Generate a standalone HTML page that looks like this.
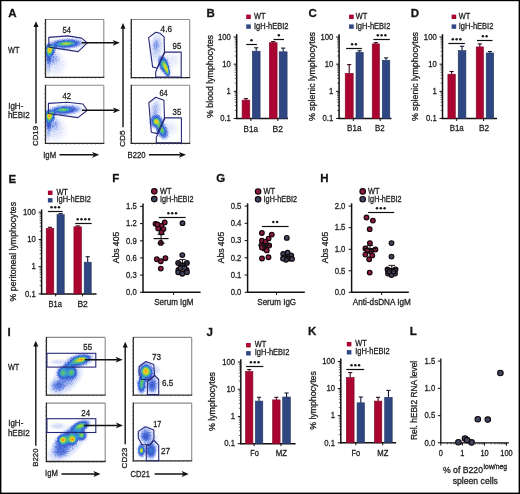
<!DOCTYPE html>
<html><head><meta charset="utf-8"><style>
html,body{margin:0;padding:0;background:#fff;}
svg{display:block;font-family:"Liberation Sans",sans-serif;will-change:transform;}
text{stroke:#1e1e1e;stroke-width:0.3px;}
</style></head><body>
<svg width="520" height="494" viewBox="0 0 520 494">
<rect x="0" y="0" width="520" height="494" fill="#fff"/>
<defs>
<filter id="b1" x="-50%" y="-50%" width="200%" height="200%"><feGaussianBlur stdDeviation="0.8"/></filter>
<filter id="b2" x="-50%" y="-50%" width="200%" height="200%"><feGaussianBlur stdDeviation="1.4"/></filter>
<filter id="b3" x="-50%" y="-50%" width="200%" height="200%"><feGaussianBlur stdDeviation="2.2"/></filter>
<filter id="b4" x="-50%" y="-50%" width="200%" height="200%"><feGaussianBlur stdDeviation="3.2"/></filter>
<radialGradient id="rg"><stop offset="0" stop-color="#000" stop-opacity="1"/><stop offset="0.35" stop-color="#000" stop-opacity="0.8"/><stop offset="0.65" stop-color="#000" stop-opacity="0.4"/><stop offset="1" stop-color="#000" stop-opacity="0"/></radialGradient><filter id="d1" filterUnits="userSpaceOnUse" x="45.5" y="19.5" width="58.0" height="57.5" color-interpolation-filters="sRGB"><feGaussianBlur in="SourceAlpha" stdDeviation="0.7" result="b"/><feGaussianBlur in="SourceAlpha" stdDeviation="2.2" result="w"/><feTurbulence type="fractalNoise" baseFrequency="1.1" numOctaves="2" seed="1" result="n"/><feComponentTransfer in="n" result="nm"><feFuncA type="discrete" tableValues="0 0 0 0 0.6 1 1 1"/></feComponentTransfer><feComposite in="w" in2="nm" operator="in" result="s"/><feComposite in="s" in2="b" operator="out" result="so1"/><feComposite in="so1" in2="b" operator="out" result="so2"/><feComposite in="so2" in2="b" operator="out" result="so"/><feComposite in="b" in2="so" operator="arithmetic" k1="0" k2="1" k3="0.75" k4="0" result="d"/><feColorMatrix in="d" type="matrix" values="0 0 0 1 0  0 0 0 1 0  0 0 0 1 0  0 0 0 0 1"/><feComponentTransfer><feFuncR type="table" tableValues="1 0.80 0.42 0.22 0.20 0.38 0.78 0.98 0.92"/><feFuncG type="table" tableValues="1 0.84 0.54 0.34 0.60 0.76 0.86 0.76 0.22"/><feFuncB type="table" tableValues="1 0.97 0.90 0.80 0.84 0.42 0.20 0.10 0.10"/></feComponentTransfer></filter>
<filter id="d2" filterUnits="userSpaceOnUse" x="45.5" y="85.5" width="58.0" height="57.5" color-interpolation-filters="sRGB"><feGaussianBlur in="SourceAlpha" stdDeviation="0.7" result="b"/><feGaussianBlur in="SourceAlpha" stdDeviation="2.2" result="w"/><feTurbulence type="fractalNoise" baseFrequency="1.1" numOctaves="2" seed="1" result="n"/><feComponentTransfer in="n" result="nm"><feFuncA type="discrete" tableValues="0 0 0 0 0.6 1 1 1"/></feComponentTransfer><feComposite in="w" in2="nm" operator="in" result="s"/><feComposite in="s" in2="b" operator="out" result="so1"/><feComposite in="so1" in2="b" operator="out" result="so2"/><feComposite in="so2" in2="b" operator="out" result="so"/><feComposite in="b" in2="so" operator="arithmetic" k1="0" k2="1" k3="0.75" k4="0" result="d"/><feColorMatrix in="d" type="matrix" values="0 0 0 1 0  0 0 0 1 0  0 0 0 1 0  0 0 0 0 1"/><feComponentTransfer><feFuncR type="table" tableValues="1 0.80 0.42 0.22 0.20 0.38 0.78 0.98 0.92"/><feFuncG type="table" tableValues="1 0.84 0.54 0.34 0.60 0.76 0.86 0.76 0.22"/><feFuncB type="table" tableValues="1 0.97 0.90 0.80 0.84 0.42 0.20 0.10 0.10"/></feComponentTransfer></filter>
<filter id="d3" filterUnits="userSpaceOnUse" x="131.5" y="20" width="58.0" height="57.5" color-interpolation-filters="sRGB"><feGaussianBlur in="SourceAlpha" stdDeviation="0.7" result="b"/><feGaussianBlur in="SourceAlpha" stdDeviation="2.2" result="w"/><feTurbulence type="fractalNoise" baseFrequency="1.1" numOctaves="2" seed="1" result="n"/><feComponentTransfer in="n" result="nm"><feFuncA type="discrete" tableValues="0 0 0 0 0.6 1 1 1"/></feComponentTransfer><feComposite in="w" in2="nm" operator="in" result="s"/><feComposite in="s" in2="b" operator="out" result="so1"/><feComposite in="so1" in2="b" operator="out" result="so2"/><feComposite in="so2" in2="b" operator="out" result="so"/><feComposite in="b" in2="so" operator="arithmetic" k1="0" k2="1" k3="0.75" k4="0" result="d"/><feColorMatrix in="d" type="matrix" values="0 0 0 1 0  0 0 0 1 0  0 0 0 1 0  0 0 0 0 1"/><feComponentTransfer><feFuncR type="table" tableValues="1 0.80 0.42 0.22 0.20 0.38 0.78 0.98 0.92"/><feFuncG type="table" tableValues="1 0.84 0.54 0.34 0.60 0.76 0.86 0.76 0.22"/><feFuncB type="table" tableValues="1 0.97 0.90 0.80 0.84 0.42 0.20 0.10 0.10"/></feComponentTransfer></filter>
<filter id="d4" filterUnits="userSpaceOnUse" x="131.5" y="85.5" width="58.0" height="57.5" color-interpolation-filters="sRGB"><feGaussianBlur in="SourceAlpha" stdDeviation="0.7" result="b"/><feGaussianBlur in="SourceAlpha" stdDeviation="2.2" result="w"/><feTurbulence type="fractalNoise" baseFrequency="1.1" numOctaves="2" seed="1" result="n"/><feComponentTransfer in="n" result="nm"><feFuncA type="discrete" tableValues="0 0 0 0 0.6 1 1 1"/></feComponentTransfer><feComposite in="w" in2="nm" operator="in" result="s"/><feComposite in="s" in2="b" operator="out" result="so1"/><feComposite in="so1" in2="b" operator="out" result="so2"/><feComposite in="so2" in2="b" operator="out" result="so"/><feComposite in="b" in2="so" operator="arithmetic" k1="0" k2="1" k3="0.75" k4="0" result="d"/><feColorMatrix in="d" type="matrix" values="0 0 0 1 0  0 0 0 1 0  0 0 0 1 0  0 0 0 0 1"/><feComponentTransfer><feFuncR type="table" tableValues="1 0.80 0.42 0.22 0.20 0.38 0.78 0.98 0.92"/><feFuncG type="table" tableValues="1 0.84 0.54 0.34 0.60 0.76 0.86 0.76 0.22"/><feFuncB type="table" tableValues="1 0.97 0.90 0.80 0.84 0.42 0.20 0.10 0.10"/></feComponentTransfer></filter>
<filter id="d5" filterUnits="userSpaceOnUse" x="46.9" y="337.9" width="57.800000000000004" height="56.700000000000045" color-interpolation-filters="sRGB"><feGaussianBlur in="SourceAlpha" stdDeviation="0.7" result="b"/><feGaussianBlur in="SourceAlpha" stdDeviation="2.2" result="w"/><feTurbulence type="fractalNoise" baseFrequency="1.1" numOctaves="2" seed="1" result="n"/><feComponentTransfer in="n" result="nm"><feFuncA type="discrete" tableValues="0 0 0 0 0.6 1 1 1"/></feComponentTransfer><feComposite in="w" in2="nm" operator="in" result="s"/><feComposite in="s" in2="b" operator="out" result="so1"/><feComposite in="so1" in2="b" operator="out" result="so2"/><feComposite in="so2" in2="b" operator="out" result="so"/><feComposite in="b" in2="so" operator="arithmetic" k1="0" k2="1" k3="0.75" k4="0" result="d"/><feColorMatrix in="d" type="matrix" values="0 0 0 1 0  0 0 0 1 0  0 0 0 1 0  0 0 0 0 1"/><feComponentTransfer><feFuncR type="table" tableValues="1 0.80 0.42 0.22 0.20 0.38 0.78 0.98 0.92"/><feFuncG type="table" tableValues="1 0.84 0.54 0.34 0.60 0.76 0.86 0.76 0.22"/><feFuncB type="table" tableValues="1 0.97 0.90 0.80 0.84 0.42 0.20 0.10 0.10"/></feComponentTransfer></filter>
<filter id="d6" filterUnits="userSpaceOnUse" x="46.9" y="403.6" width="57.800000000000004" height="57.39999999999998" color-interpolation-filters="sRGB"><feGaussianBlur in="SourceAlpha" stdDeviation="0.7" result="b"/><feGaussianBlur in="SourceAlpha" stdDeviation="2.2" result="w"/><feTurbulence type="fractalNoise" baseFrequency="1.1" numOctaves="2" seed="1" result="n"/><feComponentTransfer in="n" result="nm"><feFuncA type="discrete" tableValues="0 0 0 0 0.6 1 1 1"/></feComponentTransfer><feComposite in="w" in2="nm" operator="in" result="s"/><feComposite in="s" in2="b" operator="out" result="so1"/><feComposite in="so1" in2="b" operator="out" result="so2"/><feComposite in="so2" in2="b" operator="out" result="so"/><feComposite in="b" in2="so" operator="arithmetic" k1="0" k2="1" k3="0.75" k4="0" result="d"/><feColorMatrix in="d" type="matrix" values="0 0 0 1 0  0 0 0 1 0  0 0 0 1 0  0 0 0 0 1"/><feComponentTransfer><feFuncR type="table" tableValues="1 0.80 0.42 0.22 0.20 0.38 0.78 0.98 0.92"/><feFuncG type="table" tableValues="1 0.84 0.54 0.34 0.60 0.76 0.86 0.76 0.22"/><feFuncB type="table" tableValues="1 0.97 0.90 0.80 0.84 0.42 0.20 0.10 0.10"/></feComponentTransfer></filter>
<filter id="d7" filterUnits="userSpaceOnUse" x="133.8" y="337.9" width="57.39999999999998" height="56.700000000000045" color-interpolation-filters="sRGB"><feGaussianBlur in="SourceAlpha" stdDeviation="0.7" result="b"/><feGaussianBlur in="SourceAlpha" stdDeviation="2.2" result="w"/><feTurbulence type="fractalNoise" baseFrequency="1.1" numOctaves="2" seed="1" result="n"/><feComponentTransfer in="n" result="nm"><feFuncA type="discrete" tableValues="0 0 0 0 0.6 1 1 1"/></feComponentTransfer><feComposite in="w" in2="nm" operator="in" result="s"/><feComposite in="s" in2="b" operator="out" result="so1"/><feComposite in="so1" in2="b" operator="out" result="so2"/><feComposite in="so2" in2="b" operator="out" result="so"/><feComposite in="b" in2="so" operator="arithmetic" k1="0" k2="1" k3="0.75" k4="0" result="d"/><feColorMatrix in="d" type="matrix" values="0 0 0 1 0  0 0 0 1 0  0 0 0 1 0  0 0 0 0 1"/><feComponentTransfer><feFuncR type="table" tableValues="1 0.80 0.42 0.22 0.20 0.38 0.78 0.98 0.92"/><feFuncG type="table" tableValues="1 0.84 0.54 0.34 0.60 0.76 0.86 0.76 0.22"/><feFuncB type="table" tableValues="1 0.97 0.90 0.80 0.84 0.42 0.20 0.10 0.10"/></feComponentTransfer></filter>
<filter id="d8" filterUnits="userSpaceOnUse" x="133.8" y="403.6" width="57.39999999999998" height="56.69999999999999" color-interpolation-filters="sRGB"><feGaussianBlur in="SourceAlpha" stdDeviation="0.7" result="b"/><feGaussianBlur in="SourceAlpha" stdDeviation="2.2" result="w"/><feTurbulence type="fractalNoise" baseFrequency="1.1" numOctaves="2" seed="1" result="n"/><feComponentTransfer in="n" result="nm"><feFuncA type="discrete" tableValues="0 0 0 0 0.6 1 1 1"/></feComponentTransfer><feComposite in="w" in2="nm" operator="in" result="s"/><feComposite in="s" in2="b" operator="out" result="so1"/><feComposite in="so1" in2="b" operator="out" result="so2"/><feComposite in="so2" in2="b" operator="out" result="so"/><feComposite in="b" in2="so" operator="arithmetic" k1="0" k2="1" k3="0.75" k4="0" result="d"/><feColorMatrix in="d" type="matrix" values="0 0 0 1 0  0 0 0 1 0  0 0 0 1 0  0 0 0 0 1"/><feComponentTransfer><feFuncR type="table" tableValues="1 0.80 0.42 0.22 0.20 0.38 0.78 0.98 0.92"/><feFuncG type="table" tableValues="1 0.84 0.54 0.34 0.60 0.76 0.86 0.76 0.22"/><feFuncB type="table" tableValues="1 0.97 0.90 0.80 0.84 0.42 0.20 0.10 0.10"/></feComponentTransfer></filter></defs>
<text x="8.3" y="16.6" font-size="11.5" text-anchor="start" font-weight="bold" fill="#111">A</text>
<text x="206.6" y="16.6" font-size="11.5" text-anchor="start" font-weight="bold" fill="#111">B</text>
<text x="308.4" y="16.6" font-size="11.5" text-anchor="start" font-weight="bold" fill="#111">C</text>
<text x="410.8" y="16.6" font-size="11.5" text-anchor="start" font-weight="bold" fill="#111">D</text>
<text x="8.6" y="183.2" font-size="11.5" text-anchor="start" font-weight="bold" fill="#111">E</text>
<text x="112.3" y="182" font-size="11.5" text-anchor="start" font-weight="bold" fill="#111">F</text>
<text x="216.2" y="182.2" font-size="11.5" text-anchor="start" font-weight="bold" fill="#111">G</text>
<text x="320.2" y="182" font-size="11.5" text-anchor="start" font-weight="bold" fill="#111">H</text>
<text x="7.6" y="335.8" font-size="11.5" text-anchor="start" font-weight="bold" fill="#111">I</text>
<text x="206.5" y="335.8" font-size="11.5" text-anchor="start" font-weight="bold" fill="#111">J</text>
<text x="308" y="334.8" font-size="11.5" text-anchor="start" font-weight="bold" fill="#111">K</text>
<text x="409.8" y="334.9" font-size="11.5" text-anchor="start" font-weight="bold" fill="#111">L</text>
<g filter="url(#d1)"><rect x="45.5" y="19.5" width="58.0" height="57.5" fill="#000" fill-opacity="0"/>
<ellipse cx="49.7" cy="50" rx="6.0" ry="7.0" transform="rotate(0 49.7 50)" fill="url(#rg)" fill-opacity="0.8"/>
<ellipse cx="49.5" cy="50" rx="2.5" ry="3.2" transform="rotate(0 49.5 50)" fill="url(#rg)" fill-opacity="0.4"/>
<ellipse cx="48.5" cy="56" rx="4.0" ry="9" transform="rotate(0 48.5 56)" fill="url(#rg)" fill-opacity="0.3"/>
<ellipse cx="48.5" cy="66" rx="3.5" ry="11" transform="rotate(0 48.5 66)" fill="url(#rg)" fill-opacity="0.14"/>
<ellipse cx="53" cy="58" rx="9" ry="9" transform="rotate(-25 53 58)" fill="url(#rg)" fill-opacity="0.14"/>
<ellipse cx="56" cy="64" rx="12" ry="14" transform="rotate(0 56 64)" fill="url(#rg)" fill-opacity="0.07"/>
<ellipse cx="66" cy="43.8" rx="21" ry="6.0" transform="rotate(-3 66 43.8)" fill="url(#rg)" fill-opacity="0.5"/>
<ellipse cx="66" cy="43.6" rx="13" ry="2.8" transform="rotate(-3 66 43.6)" fill="url(#rg)" fill-opacity="0.42"/>
<ellipse cx="66" cy="43.6" rx="6" ry="1.5" transform="rotate(-3 66 43.6)" fill="url(#rg)" fill-opacity="0.15"/>
<ellipse cx="52.5" cy="47.5" rx="6" ry="3" transform="rotate(-30 52.5 47.5)" fill="url(#rg)" fill-opacity="0.35"/>
</g>
<g filter="url(#d2)"><rect x="45.5" y="85.5" width="58.0" height="57.5" fill="#000" fill-opacity="0"/>
<ellipse cx="49.5" cy="116" rx="6.0" ry="7.0" transform="rotate(0 49.5 116)" fill="url(#rg)" fill-opacity="0.82"/>
<ellipse cx="49.3" cy="116" rx="2.5" ry="3.2" transform="rotate(0 49.3 116)" fill="url(#rg)" fill-opacity="0.45"/>
<ellipse cx="48.5" cy="122" rx="4.0" ry="9" transform="rotate(0 48.5 122)" fill="url(#rg)" fill-opacity="0.3"/>
<ellipse cx="48.5" cy="132" rx="3.5" ry="11" transform="rotate(0 48.5 132)" fill="url(#rg)" fill-opacity="0.14"/>
<ellipse cx="53" cy="124" rx="9" ry="9" transform="rotate(-25 53 124)" fill="url(#rg)" fill-opacity="0.14"/>
<ellipse cx="56" cy="130" rx="12" ry="14" transform="rotate(0 56 130)" fill="url(#rg)" fill-opacity="0.07"/>
<ellipse cx="65" cy="110" rx="20" ry="6.0" transform="rotate(-3 65 110)" fill="url(#rg)" fill-opacity="0.45"/>
<ellipse cx="62.5" cy="109.7" rx="10" ry="2.6" transform="rotate(-3 62.5 109.7)" fill="url(#rg)" fill-opacity="0.42"/>
<ellipse cx="52.5" cy="113.5" rx="6" ry="3" transform="rotate(-30 52.5 113.5)" fill="url(#rg)" fill-opacity="0.35"/>
</g>
<g filter="url(#d3)"><rect x="131.5" y="20" width="58.0" height="57.5" fill="#000" fill-opacity="0"/>
<ellipse cx="156.5" cy="47" rx="8" ry="17" transform="rotate(8 156.5 47)" fill="url(#rg)" fill-opacity="0.15"/>
<ellipse cx="155.5" cy="44" rx="4" ry="7" transform="rotate(8 155.5 44)" fill="url(#rg)" fill-opacity="0.07"/>
<ellipse cx="164.2" cy="66" rx="5.5" ry="12.5" transform="rotate(-22 164.2 66)" fill="url(#rg)" fill-opacity="0.5"/>
<ellipse cx="163.5" cy="63" rx="6.5" ry="8" transform="rotate(-10 163.5 63)" fill="url(#rg)" fill-opacity="0.3"/>
<ellipse cx="167.5" cy="72.5" rx="3.2" ry="5.5" transform="rotate(-15 167.5 72.5)" fill="url(#rg)" fill-opacity="0.4"/>
<ellipse cx="166" cy="68" rx="3.2" ry="7.5" transform="rotate(-20 166 68)" fill="url(#rg)" fill-opacity="0.5"/>
<ellipse cx="166.7" cy="68.5" rx="1.6" ry="3.8" transform="rotate(-18 166.7 68.5)" fill="url(#rg)" fill-opacity="0.45"/>
<ellipse cx="172" cy="60" rx="10" ry="10" transform="rotate(0 172 60)" fill="url(#rg)" fill-opacity="0.05"/>
</g>
<g filter="url(#d4)"><rect x="131.5" y="85.5" width="58.0" height="57.5" fill="#000" fill-opacity="0"/>
<ellipse cx="155.5" cy="110" rx="7" ry="13" transform="rotate(8 155.5 110)" fill="url(#rg)" fill-opacity="0.16"/>
<ellipse cx="156.5" cy="121.5" rx="8" ry="8" transform="rotate(0 156.5 121.5)" fill="url(#rg)" fill-opacity="0.55"/>
<ellipse cx="156.3" cy="121.6" rx="4" ry="4" transform="rotate(0 156.3 121.6)" fill="url(#rg)" fill-opacity="0.72"/>
<ellipse cx="162" cy="130.5" rx="6.5" ry="11" transform="rotate(-25 162 130.5)" fill="url(#rg)" fill-opacity="0.5"/>
<ellipse cx="161.5" cy="130" rx="3.5" ry="6" transform="rotate(-25 161.5 130)" fill="url(#rg)" fill-opacity="0.35"/>
<ellipse cx="159.5" cy="126" rx="4" ry="5" transform="rotate(0 159.5 126)" fill="url(#rg)" fill-opacity="0.25"/>
<ellipse cx="170" cy="128" rx="10" ry="10" transform="rotate(0 170 128)" fill="url(#rg)" fill-opacity="0.05"/>
</g>
<line x1="45.5" y1="19.5" x2="103.8" y2="19.5" stroke="#8a8a8a" stroke-width="1.1"/>
<line x1="103.8" y1="19.5" x2="103.8" y2="77.4" stroke="#8a8a8a" stroke-width="1.1"/>
<line x1="45.5" y1="19.0" x2="45.5" y2="78.0" stroke="#2a2a2a" stroke-width="1.3"/>
<line x1="44.9" y1="77.4" x2="104.3" y2="77.4" stroke="#2a2a2a" stroke-width="1.3"/>
<line x1="44.3" y1="23.635714285714286" x2="45.5" y2="23.635714285714286" stroke="#555" stroke-width="0.6"/>
<line x1="49.66428571428571" y1="77.4" x2="49.66428571428571" y2="78.60000000000001" stroke="#555" stroke-width="0.6"/>
<line x1="44.3" y1="27.771428571428572" x2="45.5" y2="27.771428571428572" stroke="#555" stroke-width="0.6"/>
<line x1="53.82857142857143" y1="77.4" x2="53.82857142857143" y2="78.60000000000001" stroke="#555" stroke-width="0.6"/>
<line x1="44.3" y1="31.90714285714286" x2="45.5" y2="31.90714285714286" stroke="#555" stroke-width="0.6"/>
<line x1="57.99285714285714" y1="77.4" x2="57.99285714285714" y2="78.60000000000001" stroke="#555" stroke-width="0.6"/>
<line x1="44.3" y1="36.042857142857144" x2="45.5" y2="36.042857142857144" stroke="#555" stroke-width="0.6"/>
<line x1="62.15714285714286" y1="77.4" x2="62.15714285714286" y2="78.60000000000001" stroke="#555" stroke-width="0.6"/>
<line x1="44.3" y1="40.17857142857143" x2="45.5" y2="40.17857142857143" stroke="#555" stroke-width="0.6"/>
<line x1="66.32142857142857" y1="77.4" x2="66.32142857142857" y2="78.60000000000001" stroke="#555" stroke-width="0.6"/>
<line x1="44.3" y1="44.31428571428572" x2="45.5" y2="44.31428571428572" stroke="#555" stroke-width="0.6"/>
<line x1="70.48571428571428" y1="77.4" x2="70.48571428571428" y2="78.60000000000001" stroke="#555" stroke-width="0.6"/>
<line x1="44.3" y1="48.45" x2="45.5" y2="48.45" stroke="#555" stroke-width="0.6"/>
<line x1="74.65" y1="77.4" x2="74.65" y2="78.60000000000001" stroke="#555" stroke-width="0.6"/>
<line x1="44.3" y1="52.58571428571429" x2="45.5" y2="52.58571428571429" stroke="#555" stroke-width="0.6"/>
<line x1="78.81428571428572" y1="77.4" x2="78.81428571428572" y2="78.60000000000001" stroke="#555" stroke-width="0.6"/>
<line x1="44.3" y1="56.721428571428575" x2="45.5" y2="56.721428571428575" stroke="#555" stroke-width="0.6"/>
<line x1="82.97857142857143" y1="77.4" x2="82.97857142857143" y2="78.60000000000001" stroke="#555" stroke-width="0.6"/>
<line x1="44.3" y1="60.857142857142854" x2="45.5" y2="60.857142857142854" stroke="#555" stroke-width="0.6"/>
<line x1="87.14285714285714" y1="77.4" x2="87.14285714285714" y2="78.60000000000001" stroke="#555" stroke-width="0.6"/>
<line x1="44.3" y1="64.99285714285715" x2="45.5" y2="64.99285714285715" stroke="#555" stroke-width="0.6"/>
<line x1="91.30714285714285" y1="77.4" x2="91.30714285714285" y2="78.60000000000001" stroke="#555" stroke-width="0.6"/>
<line x1="44.3" y1="69.12857142857143" x2="45.5" y2="69.12857142857143" stroke="#555" stroke-width="0.6"/>
<line x1="95.47142857142856" y1="77.4" x2="95.47142857142856" y2="78.60000000000001" stroke="#555" stroke-width="0.6"/>
<line x1="44.3" y1="73.26428571428572" x2="45.5" y2="73.26428571428572" stroke="#555" stroke-width="0.6"/>
<line x1="99.63571428571429" y1="77.4" x2="99.63571428571429" y2="78.60000000000001" stroke="#555" stroke-width="0.6"/>
<line x1="45.5" y1="85.3" x2="103.8" y2="85.3" stroke="#8a8a8a" stroke-width="1.1"/>
<line x1="103.8" y1="85.3" x2="103.8" y2="143.4" stroke="#8a8a8a" stroke-width="1.1"/>
<line x1="45.5" y1="84.8" x2="45.5" y2="144.0" stroke="#2a2a2a" stroke-width="1.3"/>
<line x1="44.9" y1="143.4" x2="104.3" y2="143.4" stroke="#2a2a2a" stroke-width="1.3"/>
<line x1="44.3" y1="89.45" x2="45.5" y2="89.45" stroke="#555" stroke-width="0.6"/>
<line x1="49.66428571428571" y1="143.4" x2="49.66428571428571" y2="144.6" stroke="#555" stroke-width="0.6"/>
<line x1="44.3" y1="93.6" x2="45.5" y2="93.6" stroke="#555" stroke-width="0.6"/>
<line x1="53.82857142857143" y1="143.4" x2="53.82857142857143" y2="144.6" stroke="#555" stroke-width="0.6"/>
<line x1="44.3" y1="97.75" x2="45.5" y2="97.75" stroke="#555" stroke-width="0.6"/>
<line x1="57.99285714285714" y1="143.4" x2="57.99285714285714" y2="144.6" stroke="#555" stroke-width="0.6"/>
<line x1="44.3" y1="101.9" x2="45.5" y2="101.9" stroke="#555" stroke-width="0.6"/>
<line x1="62.15714285714286" y1="143.4" x2="62.15714285714286" y2="144.6" stroke="#555" stroke-width="0.6"/>
<line x1="44.3" y1="106.05" x2="45.5" y2="106.05" stroke="#555" stroke-width="0.6"/>
<line x1="66.32142857142857" y1="143.4" x2="66.32142857142857" y2="144.6" stroke="#555" stroke-width="0.6"/>
<line x1="44.3" y1="110.2" x2="45.5" y2="110.2" stroke="#555" stroke-width="0.6"/>
<line x1="70.48571428571428" y1="143.4" x2="70.48571428571428" y2="144.6" stroke="#555" stroke-width="0.6"/>
<line x1="44.3" y1="114.35" x2="45.5" y2="114.35" stroke="#555" stroke-width="0.6"/>
<line x1="74.65" y1="143.4" x2="74.65" y2="144.6" stroke="#555" stroke-width="0.6"/>
<line x1="44.3" y1="118.5" x2="45.5" y2="118.5" stroke="#555" stroke-width="0.6"/>
<line x1="78.81428571428572" y1="143.4" x2="78.81428571428572" y2="144.6" stroke="#555" stroke-width="0.6"/>
<line x1="44.3" y1="122.65" x2="45.5" y2="122.65" stroke="#555" stroke-width="0.6"/>
<line x1="82.97857142857143" y1="143.4" x2="82.97857142857143" y2="144.6" stroke="#555" stroke-width="0.6"/>
<line x1="44.3" y1="126.80000000000001" x2="45.5" y2="126.80000000000001" stroke="#555" stroke-width="0.6"/>
<line x1="87.14285714285714" y1="143.4" x2="87.14285714285714" y2="144.6" stroke="#555" stroke-width="0.6"/>
<line x1="44.3" y1="130.95000000000002" x2="45.5" y2="130.95000000000002" stroke="#555" stroke-width="0.6"/>
<line x1="91.30714285714285" y1="143.4" x2="91.30714285714285" y2="144.6" stroke="#555" stroke-width="0.6"/>
<line x1="44.3" y1="135.1" x2="45.5" y2="135.1" stroke="#555" stroke-width="0.6"/>
<line x1="95.47142857142856" y1="143.4" x2="95.47142857142856" y2="144.6" stroke="#555" stroke-width="0.6"/>
<line x1="44.3" y1="139.25" x2="45.5" y2="139.25" stroke="#555" stroke-width="0.6"/>
<line x1="99.63571428571429" y1="143.4" x2="99.63571428571429" y2="144.6" stroke="#555" stroke-width="0.6"/>
<line x1="131.3" y1="19.5" x2="189.7" y2="19.5" stroke="#8a8a8a" stroke-width="1.1"/>
<line x1="189.7" y1="19.5" x2="189.7" y2="77.6" stroke="#8a8a8a" stroke-width="1.1"/>
<line x1="131.3" y1="19.0" x2="131.3" y2="78.19999999999999" stroke="#2a2a2a" stroke-width="1.3"/>
<line x1="130.70000000000002" y1="77.6" x2="190.2" y2="77.6" stroke="#2a2a2a" stroke-width="1.3"/>
<line x1="130.10000000000002" y1="23.65" x2="131.3" y2="23.65" stroke="#555" stroke-width="0.6"/>
<line x1="135.4714285714286" y1="77.6" x2="135.4714285714286" y2="78.8" stroke="#555" stroke-width="0.6"/>
<line x1="130.10000000000002" y1="27.799999999999997" x2="131.3" y2="27.799999999999997" stroke="#555" stroke-width="0.6"/>
<line x1="139.64285714285714" y1="77.6" x2="139.64285714285714" y2="78.8" stroke="#555" stroke-width="0.6"/>
<line x1="130.10000000000002" y1="31.95" x2="131.3" y2="31.95" stroke="#555" stroke-width="0.6"/>
<line x1="143.81428571428572" y1="77.6" x2="143.81428571428572" y2="78.8" stroke="#555" stroke-width="0.6"/>
<line x1="130.10000000000002" y1="36.099999999999994" x2="131.3" y2="36.099999999999994" stroke="#555" stroke-width="0.6"/>
<line x1="147.9857142857143" y1="77.6" x2="147.9857142857143" y2="78.8" stroke="#555" stroke-width="0.6"/>
<line x1="130.10000000000002" y1="40.25" x2="131.3" y2="40.25" stroke="#555" stroke-width="0.6"/>
<line x1="152.15714285714287" y1="77.6" x2="152.15714285714287" y2="78.8" stroke="#555" stroke-width="0.6"/>
<line x1="130.10000000000002" y1="44.4" x2="131.3" y2="44.4" stroke="#555" stroke-width="0.6"/>
<line x1="156.32857142857142" y1="77.6" x2="156.32857142857142" y2="78.8" stroke="#555" stroke-width="0.6"/>
<line x1="130.10000000000002" y1="48.55" x2="131.3" y2="48.55" stroke="#555" stroke-width="0.6"/>
<line x1="160.5" y1="77.6" x2="160.5" y2="78.8" stroke="#555" stroke-width="0.6"/>
<line x1="130.10000000000002" y1="52.699999999999996" x2="131.3" y2="52.699999999999996" stroke="#555" stroke-width="0.6"/>
<line x1="164.67142857142858" y1="77.6" x2="164.67142857142858" y2="78.8" stroke="#555" stroke-width="0.6"/>
<line x1="130.10000000000002" y1="56.85" x2="131.3" y2="56.85" stroke="#555" stroke-width="0.6"/>
<line x1="168.84285714285716" y1="77.6" x2="168.84285714285716" y2="78.8" stroke="#555" stroke-width="0.6"/>
<line x1="130.10000000000002" y1="61.0" x2="131.3" y2="61.0" stroke="#555" stroke-width="0.6"/>
<line x1="173.0142857142857" y1="77.6" x2="173.0142857142857" y2="78.8" stroke="#555" stroke-width="0.6"/>
<line x1="130.10000000000002" y1="65.14999999999999" x2="131.3" y2="65.14999999999999" stroke="#555" stroke-width="0.6"/>
<line x1="177.18571428571428" y1="77.6" x2="177.18571428571428" y2="78.8" stroke="#555" stroke-width="0.6"/>
<line x1="130.10000000000002" y1="69.3" x2="131.3" y2="69.3" stroke="#555" stroke-width="0.6"/>
<line x1="181.35714285714283" y1="77.6" x2="181.35714285714283" y2="78.8" stroke="#555" stroke-width="0.6"/>
<line x1="130.10000000000002" y1="73.44999999999999" x2="131.3" y2="73.44999999999999" stroke="#555" stroke-width="0.6"/>
<line x1="185.5285714285714" y1="77.6" x2="185.5285714285714" y2="78.8" stroke="#555" stroke-width="0.6"/>
<line x1="131.3" y1="85.3" x2="189.7" y2="85.3" stroke="#8a8a8a" stroke-width="1.1"/>
<line x1="189.7" y1="85.3" x2="189.7" y2="143.4" stroke="#8a8a8a" stroke-width="1.1"/>
<line x1="131.3" y1="84.8" x2="131.3" y2="144.0" stroke="#2a2a2a" stroke-width="1.3"/>
<line x1="130.70000000000002" y1="143.4" x2="190.2" y2="143.4" stroke="#2a2a2a" stroke-width="1.3"/>
<line x1="130.10000000000002" y1="89.45" x2="131.3" y2="89.45" stroke="#555" stroke-width="0.6"/>
<line x1="135.4714285714286" y1="143.4" x2="135.4714285714286" y2="144.6" stroke="#555" stroke-width="0.6"/>
<line x1="130.10000000000002" y1="93.6" x2="131.3" y2="93.6" stroke="#555" stroke-width="0.6"/>
<line x1="139.64285714285714" y1="143.4" x2="139.64285714285714" y2="144.6" stroke="#555" stroke-width="0.6"/>
<line x1="130.10000000000002" y1="97.75" x2="131.3" y2="97.75" stroke="#555" stroke-width="0.6"/>
<line x1="143.81428571428572" y1="143.4" x2="143.81428571428572" y2="144.6" stroke="#555" stroke-width="0.6"/>
<line x1="130.10000000000002" y1="101.9" x2="131.3" y2="101.9" stroke="#555" stroke-width="0.6"/>
<line x1="147.9857142857143" y1="143.4" x2="147.9857142857143" y2="144.6" stroke="#555" stroke-width="0.6"/>
<line x1="130.10000000000002" y1="106.05" x2="131.3" y2="106.05" stroke="#555" stroke-width="0.6"/>
<line x1="152.15714285714287" y1="143.4" x2="152.15714285714287" y2="144.6" stroke="#555" stroke-width="0.6"/>
<line x1="130.10000000000002" y1="110.2" x2="131.3" y2="110.2" stroke="#555" stroke-width="0.6"/>
<line x1="156.32857142857142" y1="143.4" x2="156.32857142857142" y2="144.6" stroke="#555" stroke-width="0.6"/>
<line x1="130.10000000000002" y1="114.35" x2="131.3" y2="114.35" stroke="#555" stroke-width="0.6"/>
<line x1="160.5" y1="143.4" x2="160.5" y2="144.6" stroke="#555" stroke-width="0.6"/>
<line x1="130.10000000000002" y1="118.5" x2="131.3" y2="118.5" stroke="#555" stroke-width="0.6"/>
<line x1="164.67142857142858" y1="143.4" x2="164.67142857142858" y2="144.6" stroke="#555" stroke-width="0.6"/>
<line x1="130.10000000000002" y1="122.65" x2="131.3" y2="122.65" stroke="#555" stroke-width="0.6"/>
<line x1="168.84285714285716" y1="143.4" x2="168.84285714285716" y2="144.6" stroke="#555" stroke-width="0.6"/>
<line x1="130.10000000000002" y1="126.80000000000001" x2="131.3" y2="126.80000000000001" stroke="#555" stroke-width="0.6"/>
<line x1="173.0142857142857" y1="143.4" x2="173.0142857142857" y2="144.6" stroke="#555" stroke-width="0.6"/>
<line x1="130.10000000000002" y1="130.95000000000002" x2="131.3" y2="130.95000000000002" stroke="#555" stroke-width="0.6"/>
<line x1="177.18571428571428" y1="143.4" x2="177.18571428571428" y2="144.6" stroke="#555" stroke-width="0.6"/>
<line x1="130.10000000000002" y1="135.1" x2="131.3" y2="135.1" stroke="#555" stroke-width="0.6"/>
<line x1="181.35714285714283" y1="143.4" x2="181.35714285714283" y2="144.6" stroke="#555" stroke-width="0.6"/>
<line x1="130.10000000000002" y1="139.25" x2="131.3" y2="139.25" stroke="#555" stroke-width="0.6"/>
<line x1="185.5285714285714" y1="143.4" x2="185.5285714285714" y2="144.6" stroke="#555" stroke-width="0.6"/>
<polygon points="48.8,37.4 67.8,35.9 81.6,38.1 87.3,42.8 78.1,51.6 49.0,47.1" fill="none" stroke="#28287a" stroke-width="1.1" stroke-linejoin="round"/>
<polygon points="48.4,103.4 67.2,102.2 82.9,104.0 87.3,110.3 77.9,117.6 48.4,113.5" fill="none" stroke="#28287a" stroke-width="1.1" stroke-linejoin="round"/>
<polygon points="148.6,37.6 155.7,32.2 160.1,33.3 164.1,36.8 164.5,51.9 157.0,68.2 152.6,66.9" fill="none" stroke="#28287a" stroke-width="1.1" stroke-linejoin="round"/>
<polygon points="165.1,52.1 181.2,52.1 181.2,77.0 155.7,77.0 155.7,72.0 157.0,68.8" fill="none" stroke="#28287a" stroke-width="1.1" stroke-linejoin="round"/>
<polygon points="148.8,102.8 155.7,97.2 163.9,100.3 164.5,117.9 157.0,133.6 151.3,132.3" fill="none" stroke="#28287a" stroke-width="1.1" stroke-linejoin="round"/>
<polygon points="165.1,117.9 181.4,117.9 181.4,142.7 156.3,142.7 156.3,137.3 158.2,133.6" fill="none" stroke="#28287a" stroke-width="1.1" stroke-linejoin="round"/>
<line x1="81.6" y1="42.8" x2="114.3" y2="42.8" stroke="#111" stroke-width="1.5"/>
<polygon points="119.8,42.8 112.8,39.9 114.39999999999999,42.8 112.8,45.699999999999996" fill="#111"/>
<line x1="82" y1="110.3" x2="114.5" y2="110.3" stroke="#111" stroke-width="1.5"/>
<polygon points="120,110.3 113.0,107.39999999999999 114.6,110.3 113.0,113.2" fill="#111"/>
<line x1="36" y1="123.5" x2="36" y2="26.6" stroke="#222" stroke-width="1.5"/>
<polygon points="36,21.3 33.5,27.1 38.5,27.1" fill="#111"/>
<line x1="123" y1="127.2" x2="123" y2="28.3" stroke="#222" stroke-width="1.5"/>
<polygon points="123,23 120.5,28.8 125.5,28.8" fill="#111"/>
<line x1="59.5" y1="154.8" x2="93.7" y2="154.8" stroke="#111" stroke-width="1.5"/>
<polygon points="99.2,154.8 92.2,151.9 93.8,154.8 92.2,157.70000000000002" fill="#111"/>
<line x1="148.9" y1="154.8" x2="180.5" y2="154.8" stroke="#111" stroke-width="1.5"/>
<polygon points="186,154.8 179.0,151.9 180.6,154.8 179.0,157.70000000000002" fill="#111"/>
<text x="43.2" y="157.6" font-size="9.04" text-anchor="start" font-weight="normal" fill="#1e1e1e" textLength="12.9" lengthAdjust="spacingAndGlyphs">IgM</text>
<text x="127.6" y="157.6" font-size="9.04" text-anchor="start" font-weight="normal" fill="#1e1e1e" textLength="18" lengthAdjust="spacingAndGlyphs">B220</text>
<text transform="translate(38.48,146.00) rotate(-90)" x="0" y="0" font-size="8" fill="#1e1e1e" textLength="20.0" lengthAdjust="spacingAndGlyphs">CD19</text>
<text transform="translate(125.48,147.10) rotate(-90)" x="0" y="0" font-size="8" fill="#1e1e1e" textLength="16.7" lengthAdjust="spacingAndGlyphs">CD5</text>
<text x="8.0" y="52.6" font-size="9.04" text-anchor="start" font-weight="normal" fill="#1e1e1e" textLength="11.4" lengthAdjust="spacingAndGlyphs">WT</text>
<text x="8.2" y="108.6" font-size="9.04" text-anchor="start" font-weight="normal" fill="#1e1e1e" textLength="15.11" lengthAdjust="spacingAndGlyphs">IgH-</text>
<text x="7.9" y="118.3" font-size="9.04" text-anchor="start" font-weight="normal" fill="#1e1e1e" textLength="21.9" lengthAdjust="spacingAndGlyphs">hEBI2</text>
<text x="62.6" y="32.8" font-size="9.04" text-anchor="start" font-weight="normal" fill="#1e1e1e" textLength="8.4" lengthAdjust="spacingAndGlyphs">54</text>
<text x="62.6" y="98.8" font-size="9.04" text-anchor="start" font-weight="normal" fill="#1e1e1e" textLength="8.4" lengthAdjust="spacingAndGlyphs">42</text>
<text x="160.6" y="31.5" font-size="9.04" text-anchor="start" font-weight="normal" fill="#1e1e1e" textLength="11.4" lengthAdjust="spacingAndGlyphs">4.6</text>
<text x="172.6" y="49.4" font-size="9.04" text-anchor="start" font-weight="normal" fill="#1e1e1e" textLength="8.7" lengthAdjust="spacingAndGlyphs">95</text>
<text x="159.4" y="95.9" font-size="9.04" text-anchor="start" font-weight="normal" fill="#1e1e1e" textLength="8.2" lengthAdjust="spacingAndGlyphs">64</text>
<text x="172.6" y="115.4" font-size="9.04" text-anchor="start" font-weight="normal" fill="#1e1e1e" textLength="8.7" lengthAdjust="spacingAndGlyphs">35</text>
<line x1="236.7" y1="34.2" x2="236.7" y2="119.1" stroke="#111" stroke-width="1.5"/>
<line x1="233.7" y1="37.0" x2="236.7" y2="37.0" stroke="#111" stroke-width="1.0"/>
<text x="230.89999999999998" y="39.7" font-size="8.7" text-anchor="end" font-weight="normal" fill="#1e1e1e" textLength="12.85" lengthAdjust="spacingAndGlyphs">100</text>
<line x1="234.7" y1="55.988685117795185" x2="236.7" y2="55.988685117795185" stroke="#222" stroke-width="0.65"/>
<line x1="234.7" y1="51.20487258011584" x2="236.7" y2="51.20487258011584" stroke="#222" stroke-width="0.65"/>
<line x1="234.7" y1="47.81070356892369" x2="236.7" y2="47.81070356892369" stroke="#222" stroke-width="0.65"/>
<line x1="234.7" y1="45.17798154887149" x2="236.7" y2="45.17798154887149" stroke="#222" stroke-width="0.65"/>
<line x1="234.7" y1="43.02689103124435" x2="236.7" y2="43.02689103124435" stroke="#222" stroke-width="0.65"/>
<line x1="234.7" y1="41.208169912946026" x2="236.7" y2="41.208169912946026" stroke="#222" stroke-width="0.65"/>
<line x1="234.7" y1="39.6327220200522" x2="236.7" y2="39.6327220200522" stroke="#222" stroke-width="0.65"/>
<line x1="234.7" y1="38.24307849356501" x2="236.7" y2="38.24307849356501" stroke="#222" stroke-width="0.65"/>
<line x1="233.7" y1="64.16666666666667" x2="236.7" y2="64.16666666666667" stroke="#111" stroke-width="1.0"/>
<text x="230.89999999999998" y="66.86666666666667" font-size="8.7" text-anchor="end" font-weight="normal" fill="#1e1e1e" textLength="8.56" lengthAdjust="spacingAndGlyphs">10</text>
<line x1="234.7" y1="83.15535178446186" x2="236.7" y2="83.15535178446186" stroke="#222" stroke-width="0.65"/>
<line x1="234.7" y1="78.37153924678252" x2="236.7" y2="78.37153924678252" stroke="#222" stroke-width="0.65"/>
<line x1="234.7" y1="74.97737023559037" x2="236.7" y2="74.97737023559037" stroke="#222" stroke-width="0.65"/>
<line x1="234.7" y1="72.34464821553817" x2="236.7" y2="72.34464821553817" stroke="#222" stroke-width="0.65"/>
<line x1="234.7" y1="70.19355769791102" x2="236.7" y2="70.19355769791102" stroke="#222" stroke-width="0.65"/>
<line x1="234.7" y1="68.37483657961269" x2="236.7" y2="68.37483657961269" stroke="#222" stroke-width="0.65"/>
<line x1="234.7" y1="66.79938868671887" x2="236.7" y2="66.79938868671887" stroke="#222" stroke-width="0.65"/>
<line x1="234.7" y1="65.40974516023168" x2="236.7" y2="65.40974516023168" stroke="#222" stroke-width="0.65"/>
<line x1="233.7" y1="91.33333333333334" x2="236.7" y2="91.33333333333334" stroke="#111" stroke-width="1.0"/>
<text x="230.89999999999998" y="94.03333333333335" font-size="8.7" text-anchor="end" font-weight="normal" fill="#1e1e1e" textLength="4.28" lengthAdjust="spacingAndGlyphs">1</text>
<line x1="234.7" y1="110.32201845112853" x2="236.7" y2="110.32201845112853" stroke="#222" stroke-width="0.65"/>
<line x1="234.7" y1="105.53820591344919" x2="236.7" y2="105.53820591344919" stroke="#222" stroke-width="0.65"/>
<line x1="234.7" y1="102.14403690225703" x2="236.7" y2="102.14403690225703" stroke="#222" stroke-width="0.65"/>
<line x1="234.7" y1="99.51131488220483" x2="236.7" y2="99.51131488220483" stroke="#222" stroke-width="0.65"/>
<line x1="234.7" y1="97.36022436457769" x2="236.7" y2="97.36022436457769" stroke="#222" stroke-width="0.65"/>
<line x1="234.7" y1="95.54150324627938" x2="236.7" y2="95.54150324627938" stroke="#222" stroke-width="0.65"/>
<line x1="234.7" y1="93.96605535338554" x2="236.7" y2="93.96605535338554" stroke="#222" stroke-width="0.65"/>
<line x1="234.7" y1="92.57641182689835" x2="236.7" y2="92.57641182689835" stroke="#222" stroke-width="0.65"/>
<line x1="233.7" y1="118.5" x2="236.7" y2="118.5" stroke="#111" stroke-width="1.0"/>
<text x="230.89999999999998" y="121.2" font-size="8.7" text-anchor="end" font-weight="normal" fill="#1e1e1e" textLength="10.7" lengthAdjust="spacingAndGlyphs">0.1</text>
<line x1="236.0" y1="118.5" x2="288" y2="118.5" stroke="#111" stroke-width="1.5"/>
<line x1="250.89999999999998" y1="118.5" x2="250.89999999999998" y2="121.0" stroke="#111" stroke-width="1.0"/>
<line x1="277.8" y1="118.5" x2="277.8" y2="121.0" stroke="#111" stroke-width="1.0"/>
<line x1="245.95" y1="98.6" x2="245.95" y2="100.1" stroke="#3a0818" stroke-width="1.1"/>
<line x1="243.85" y1="98.6" x2="248.04999999999998" y2="98.6" stroke="#3a0818" stroke-width="1.1"/>
<rect x="242.10" y="100.10" width="7.70" height="18.40" fill="#aa0530" stroke="#7e0a28" stroke-width="0.6"/>
<line x1="256.2" y1="47.8" x2="256.2" y2="51.2" stroke="#141c34" stroke-width="1.1"/>
<line x1="254.1" y1="47.8" x2="258.3" y2="47.8" stroke="#141c34" stroke-width="1.1"/>
<rect x="252.30" y="51.20" width="7.80" height="67.30" fill="#2e4682" stroke="#23345c" stroke-width="0.6"/>
<line x1="273.2" y1="41.6" x2="273.2" y2="42.7" stroke="#3a0818" stroke-width="1.1"/>
<line x1="271.09999999999997" y1="41.6" x2="275.3" y2="41.6" stroke="#3a0818" stroke-width="1.1"/>
<rect x="269.30" y="42.70" width="7.80" height="75.80" fill="#aa0530" stroke="#7e0a28" stroke-width="0.6"/>
<line x1="283.15" y1="48.1" x2="283.15" y2="51.8" stroke="#141c34" stroke-width="1.1"/>
<line x1="281.04999999999995" y1="48.1" x2="285.25" y2="48.1" stroke="#141c34" stroke-width="1.1"/>
<rect x="279.20" y="51.80" width="7.90" height="66.70" fill="#2e4682" stroke="#23345c" stroke-width="0.6"/>
<line x1="246.2" y1="44.5" x2="256.9" y2="44.5" stroke="#111" stroke-width="1.2"/>
<circle cx="251.5" cy="40.2" r="1.25" fill="#1a1a1a"/>
<line x1="273.5" y1="39.5" x2="284.0" y2="39.5" stroke="#111" stroke-width="1.2"/>
<circle cx="278.8" cy="35.2" r="1.25" fill="#1a1a1a"/>
<text x="250.7" y="132.2" font-size="9.04" text-anchor="middle" font-weight="normal" fill="#1e1e1e" textLength="14.4" lengthAdjust="spacingAndGlyphs">B1a</text>
<text x="277.8" y="132.2" font-size="9.04" text-anchor="middle" font-weight="normal" fill="#1e1e1e" textLength="10.4" lengthAdjust="spacingAndGlyphs">B2</text>
<rect x="246.20" y="14.60" width="4.60" height="4.40" fill="#aa0530" stroke="none" stroke-width="0"/>
<rect x="246.20" y="24.40" width="4.60" height="4.40" fill="#2e4682" stroke="none" stroke-width="0"/>
<text x="254.0" y="18.9" font-size="8.36" text-anchor="start" font-weight="normal" fill="#1e1e1e" textLength="11.5" lengthAdjust="spacingAndGlyphs">WT</text>
<text x="254.0" y="28.7" font-size="8.36" text-anchor="start" font-weight="normal" fill="#1e1e1e" textLength="34.5" lengthAdjust="spacingAndGlyphs">IgH-hEBI2</text>
<text transform="translate(213.42,117.90) rotate(-90)" x="0" y="0" font-size="8.4" fill="#1e1e1e" textLength="82.9" lengthAdjust="spacingAndGlyphs">% blood lymphocytes</text>
<line x1="339.1" y1="34.2" x2="339.1" y2="119.1" stroke="#111" stroke-width="1.5"/>
<line x1="336.1" y1="37.0" x2="339.1" y2="37.0" stroke="#111" stroke-width="1.0"/>
<text x="333.3" y="39.7" font-size="8.7" text-anchor="end" font-weight="normal" fill="#1e1e1e" textLength="12.85" lengthAdjust="spacingAndGlyphs">100</text>
<line x1="337.1" y1="55.988685117795185" x2="339.1" y2="55.988685117795185" stroke="#222" stroke-width="0.65"/>
<line x1="337.1" y1="51.20487258011584" x2="339.1" y2="51.20487258011584" stroke="#222" stroke-width="0.65"/>
<line x1="337.1" y1="47.81070356892369" x2="339.1" y2="47.81070356892369" stroke="#222" stroke-width="0.65"/>
<line x1="337.1" y1="45.17798154887149" x2="339.1" y2="45.17798154887149" stroke="#222" stroke-width="0.65"/>
<line x1="337.1" y1="43.02689103124435" x2="339.1" y2="43.02689103124435" stroke="#222" stroke-width="0.65"/>
<line x1="337.1" y1="41.208169912946026" x2="339.1" y2="41.208169912946026" stroke="#222" stroke-width="0.65"/>
<line x1="337.1" y1="39.6327220200522" x2="339.1" y2="39.6327220200522" stroke="#222" stroke-width="0.65"/>
<line x1="337.1" y1="38.24307849356501" x2="339.1" y2="38.24307849356501" stroke="#222" stroke-width="0.65"/>
<line x1="336.1" y1="64.16666666666667" x2="339.1" y2="64.16666666666667" stroke="#111" stroke-width="1.0"/>
<text x="333.3" y="66.86666666666667" font-size="8.7" text-anchor="end" font-weight="normal" fill="#1e1e1e" textLength="8.56" lengthAdjust="spacingAndGlyphs">10</text>
<line x1="337.1" y1="83.15535178446186" x2="339.1" y2="83.15535178446186" stroke="#222" stroke-width="0.65"/>
<line x1="337.1" y1="78.37153924678252" x2="339.1" y2="78.37153924678252" stroke="#222" stroke-width="0.65"/>
<line x1="337.1" y1="74.97737023559037" x2="339.1" y2="74.97737023559037" stroke="#222" stroke-width="0.65"/>
<line x1="337.1" y1="72.34464821553817" x2="339.1" y2="72.34464821553817" stroke="#222" stroke-width="0.65"/>
<line x1="337.1" y1="70.19355769791102" x2="339.1" y2="70.19355769791102" stroke="#222" stroke-width="0.65"/>
<line x1="337.1" y1="68.37483657961269" x2="339.1" y2="68.37483657961269" stroke="#222" stroke-width="0.65"/>
<line x1="337.1" y1="66.79938868671887" x2="339.1" y2="66.79938868671887" stroke="#222" stroke-width="0.65"/>
<line x1="337.1" y1="65.40974516023168" x2="339.1" y2="65.40974516023168" stroke="#222" stroke-width="0.65"/>
<line x1="336.1" y1="91.33333333333334" x2="339.1" y2="91.33333333333334" stroke="#111" stroke-width="1.0"/>
<text x="333.3" y="94.03333333333335" font-size="8.7" text-anchor="end" font-weight="normal" fill="#1e1e1e" textLength="4.28" lengthAdjust="spacingAndGlyphs">1</text>
<line x1="337.1" y1="110.32201845112853" x2="339.1" y2="110.32201845112853" stroke="#222" stroke-width="0.65"/>
<line x1="337.1" y1="105.53820591344919" x2="339.1" y2="105.53820591344919" stroke="#222" stroke-width="0.65"/>
<line x1="337.1" y1="102.14403690225703" x2="339.1" y2="102.14403690225703" stroke="#222" stroke-width="0.65"/>
<line x1="337.1" y1="99.51131488220483" x2="339.1" y2="99.51131488220483" stroke="#222" stroke-width="0.65"/>
<line x1="337.1" y1="97.36022436457769" x2="339.1" y2="97.36022436457769" stroke="#222" stroke-width="0.65"/>
<line x1="337.1" y1="95.54150324627938" x2="339.1" y2="95.54150324627938" stroke="#222" stroke-width="0.65"/>
<line x1="337.1" y1="93.96605535338554" x2="339.1" y2="93.96605535338554" stroke="#222" stroke-width="0.65"/>
<line x1="337.1" y1="92.57641182689835" x2="339.1" y2="92.57641182689835" stroke="#222" stroke-width="0.65"/>
<line x1="336.1" y1="118.5" x2="339.1" y2="118.5" stroke="#111" stroke-width="1.0"/>
<text x="333.3" y="121.2" font-size="8.7" text-anchor="end" font-weight="normal" fill="#1e1e1e" textLength="10.7" lengthAdjust="spacingAndGlyphs">0.1</text>
<line x1="338.40000000000003" y1="118.5" x2="391.5" y2="118.5" stroke="#111" stroke-width="1.5"/>
<line x1="353.3" y1="118.5" x2="353.3" y2="121.0" stroke="#111" stroke-width="1.0"/>
<line x1="380.20000000000005" y1="118.5" x2="380.20000000000005" y2="121.0" stroke="#111" stroke-width="1.0"/>
<line x1="349.20000000000005" y1="64.6" x2="349.20000000000005" y2="73.3" stroke="#3a0818" stroke-width="1.1"/>
<line x1="347.1" y1="64.6" x2="351.30000000000007" y2="64.6" stroke="#3a0818" stroke-width="1.1"/>
<rect x="345.20" y="73.30" width="8.00" height="45.20" fill="#aa0530" stroke="#7e0a28" stroke-width="0.6"/>
<line x1="359.6" y1="50.8" x2="359.6" y2="52.3" stroke="#141c34" stroke-width="1.1"/>
<line x1="357.5" y1="50.8" x2="361.70000000000005" y2="50.8" stroke="#141c34" stroke-width="1.1"/>
<rect x="356.00" y="52.30" width="7.20" height="66.20" fill="#2e4682" stroke="#23345c" stroke-width="0.6"/>
<line x1="375.85" y1="42.6" x2="375.85" y2="43.9" stroke="#3a0818" stroke-width="1.1"/>
<line x1="373.75" y1="42.6" x2="377.95000000000005" y2="42.6" stroke="#3a0818" stroke-width="1.1"/>
<rect x="372.20" y="43.90" width="7.30" height="74.60" fill="#aa0530" stroke="#7e0a28" stroke-width="0.6"/>
<line x1="386.05" y1="57.9" x2="386.05" y2="60.3" stroke="#141c34" stroke-width="1.1"/>
<line x1="383.95" y1="57.9" x2="388.15000000000003" y2="57.9" stroke="#141c34" stroke-width="1.1"/>
<rect x="382.30" y="60.30" width="7.50" height="58.20" fill="#2e4682" stroke="#23345c" stroke-width="0.6"/>
<line x1="346.1" y1="48.5" x2="361.90000000000003" y2="48.5" stroke="#111" stroke-width="1.2"/>
<circle cx="352.1" cy="44.2" r="1.25" fill="#1a1a1a"/>
<circle cx="355.9" cy="44.2" r="1.25" fill="#1a1a1a"/>
<line x1="373.40000000000003" y1="39.5" x2="389.8" y2="39.5" stroke="#111" stroke-width="1.2"/>
<circle cx="377.8" cy="35.2" r="1.25" fill="#1a1a1a"/>
<circle cx="381.6" cy="35.2" r="1.25" fill="#1a1a1a"/>
<circle cx="385.4" cy="35.2" r="1.25" fill="#1a1a1a"/>
<text x="354.3" y="131.4" font-size="9.04" text-anchor="middle" font-weight="normal" fill="#1e1e1e" textLength="14.4" lengthAdjust="spacingAndGlyphs">B1a</text>
<text x="379.8" y="131.4" font-size="9.04" text-anchor="middle" font-weight="normal" fill="#1e1e1e" textLength="9.6" lengthAdjust="spacingAndGlyphs">B2</text>
<rect x="349.10" y="14.60" width="4.60" height="4.40" fill="#aa0530" stroke="none" stroke-width="0"/>
<rect x="349.10" y="24.40" width="4.60" height="4.40" fill="#2e4682" stroke="none" stroke-width="0"/>
<text x="355.8" y="18.9" font-size="8.36" text-anchor="start" font-weight="normal" fill="#1e1e1e" textLength="11.5" lengthAdjust="spacingAndGlyphs">WT</text>
<text x="355.8" y="28.7" font-size="8.36" text-anchor="start" font-weight="normal" fill="#1e1e1e" textLength="34.5" lengthAdjust="spacingAndGlyphs">IgH-hEBI2</text>
<text transform="translate(315.42,121.00) rotate(-90)" x="0" y="0" font-size="8.4" fill="#1e1e1e" textLength="89.0" lengthAdjust="spacingAndGlyphs">% splenic lymphocytes</text>
<line x1="442.5" y1="34.2" x2="442.5" y2="119.1" stroke="#111" stroke-width="1.5"/>
<line x1="439.5" y1="37.0" x2="442.5" y2="37.0" stroke="#111" stroke-width="1.0"/>
<text x="436.7" y="39.7" font-size="8.7" text-anchor="end" font-weight="normal" fill="#1e1e1e" textLength="12.85" lengthAdjust="spacingAndGlyphs">100</text>
<line x1="440.5" y1="55.988685117795185" x2="442.5" y2="55.988685117795185" stroke="#222" stroke-width="0.65"/>
<line x1="440.5" y1="51.20487258011584" x2="442.5" y2="51.20487258011584" stroke="#222" stroke-width="0.65"/>
<line x1="440.5" y1="47.81070356892369" x2="442.5" y2="47.81070356892369" stroke="#222" stroke-width="0.65"/>
<line x1="440.5" y1="45.17798154887149" x2="442.5" y2="45.17798154887149" stroke="#222" stroke-width="0.65"/>
<line x1="440.5" y1="43.02689103124435" x2="442.5" y2="43.02689103124435" stroke="#222" stroke-width="0.65"/>
<line x1="440.5" y1="41.208169912946026" x2="442.5" y2="41.208169912946026" stroke="#222" stroke-width="0.65"/>
<line x1="440.5" y1="39.6327220200522" x2="442.5" y2="39.6327220200522" stroke="#222" stroke-width="0.65"/>
<line x1="440.5" y1="38.24307849356501" x2="442.5" y2="38.24307849356501" stroke="#222" stroke-width="0.65"/>
<line x1="439.5" y1="64.16666666666667" x2="442.5" y2="64.16666666666667" stroke="#111" stroke-width="1.0"/>
<text x="436.7" y="66.86666666666667" font-size="8.7" text-anchor="end" font-weight="normal" fill="#1e1e1e" textLength="8.56" lengthAdjust="spacingAndGlyphs">10</text>
<line x1="440.5" y1="83.15535178446186" x2="442.5" y2="83.15535178446186" stroke="#222" stroke-width="0.65"/>
<line x1="440.5" y1="78.37153924678252" x2="442.5" y2="78.37153924678252" stroke="#222" stroke-width="0.65"/>
<line x1="440.5" y1="74.97737023559037" x2="442.5" y2="74.97737023559037" stroke="#222" stroke-width="0.65"/>
<line x1="440.5" y1="72.34464821553817" x2="442.5" y2="72.34464821553817" stroke="#222" stroke-width="0.65"/>
<line x1="440.5" y1="70.19355769791102" x2="442.5" y2="70.19355769791102" stroke="#222" stroke-width="0.65"/>
<line x1="440.5" y1="68.37483657961269" x2="442.5" y2="68.37483657961269" stroke="#222" stroke-width="0.65"/>
<line x1="440.5" y1="66.79938868671887" x2="442.5" y2="66.79938868671887" stroke="#222" stroke-width="0.65"/>
<line x1="440.5" y1="65.40974516023168" x2="442.5" y2="65.40974516023168" stroke="#222" stroke-width="0.65"/>
<line x1="439.5" y1="91.33333333333334" x2="442.5" y2="91.33333333333334" stroke="#111" stroke-width="1.0"/>
<text x="436.7" y="94.03333333333335" font-size="8.7" text-anchor="end" font-weight="normal" fill="#1e1e1e" textLength="4.28" lengthAdjust="spacingAndGlyphs">1</text>
<line x1="440.5" y1="110.32201845112853" x2="442.5" y2="110.32201845112853" stroke="#222" stroke-width="0.65"/>
<line x1="440.5" y1="105.53820591344919" x2="442.5" y2="105.53820591344919" stroke="#222" stroke-width="0.65"/>
<line x1="440.5" y1="102.14403690225703" x2="442.5" y2="102.14403690225703" stroke="#222" stroke-width="0.65"/>
<line x1="440.5" y1="99.51131488220483" x2="442.5" y2="99.51131488220483" stroke="#222" stroke-width="0.65"/>
<line x1="440.5" y1="97.36022436457769" x2="442.5" y2="97.36022436457769" stroke="#222" stroke-width="0.65"/>
<line x1="440.5" y1="95.54150324627938" x2="442.5" y2="95.54150324627938" stroke="#222" stroke-width="0.65"/>
<line x1="440.5" y1="93.96605535338554" x2="442.5" y2="93.96605535338554" stroke="#222" stroke-width="0.65"/>
<line x1="440.5" y1="92.57641182689835" x2="442.5" y2="92.57641182689835" stroke="#222" stroke-width="0.65"/>
<line x1="439.5" y1="118.5" x2="442.5" y2="118.5" stroke="#111" stroke-width="1.0"/>
<text x="436.7" y="121.2" font-size="8.7" text-anchor="end" font-weight="normal" fill="#1e1e1e" textLength="10.7" lengthAdjust="spacingAndGlyphs">0.1</text>
<line x1="441.8" y1="118.5" x2="497" y2="118.5" stroke="#111" stroke-width="1.5"/>
<line x1="456.7" y1="118.5" x2="456.7" y2="121.0" stroke="#111" stroke-width="1.0"/>
<line x1="483.6" y1="118.5" x2="483.6" y2="121.0" stroke="#111" stroke-width="1.0"/>
<line x1="451.59999999999997" y1="71.5" x2="451.59999999999997" y2="74.2" stroke="#3a0818" stroke-width="1.1"/>
<line x1="449.49999999999994" y1="71.5" x2="453.7" y2="71.5" stroke="#3a0818" stroke-width="1.1"/>
<rect x="447.90" y="74.20" width="7.40" height="44.30" fill="#aa0530" stroke="#7e0a28" stroke-width="0.6"/>
<line x1="462.05" y1="46.3" x2="462.05" y2="50.6" stroke="#141c34" stroke-width="1.1"/>
<line x1="459.95" y1="46.3" x2="464.15000000000003" y2="46.3" stroke="#141c34" stroke-width="1.1"/>
<rect x="458.20" y="50.60" width="7.70" height="67.90" fill="#2e4682" stroke="#23345c" stroke-width="0.6"/>
<line x1="479.84999999999997" y1="43.9" x2="479.84999999999997" y2="46.9" stroke="#3a0818" stroke-width="1.1"/>
<line x1="477.74999999999994" y1="43.9" x2="481.95" y2="43.9" stroke="#3a0818" stroke-width="1.1"/>
<rect x="476.20" y="46.90" width="7.30" height="71.60" fill="#aa0530" stroke="#7e0a28" stroke-width="0.6"/>
<line x1="489.95" y1="51.5" x2="489.95" y2="53.0" stroke="#141c34" stroke-width="1.1"/>
<line x1="487.84999999999997" y1="51.5" x2="492.05" y2="51.5" stroke="#141c34" stroke-width="1.1"/>
<rect x="486.20" y="53.00" width="7.50" height="65.50" fill="#2e4682" stroke="#23345c" stroke-width="0.6"/>
<line x1="448.3" y1="43.5" x2="464.9" y2="43.5" stroke="#111" stroke-width="1.2"/>
<circle cx="452.8" cy="39.2" r="1.25" fill="#1a1a1a"/>
<circle cx="456.6" cy="39.2" r="1.25" fill="#1a1a1a"/>
<circle cx="460.4" cy="39.2" r="1.25" fill="#1a1a1a"/>
<line x1="477.0" y1="40.5" x2="492.5" y2="40.5" stroke="#111" stroke-width="1.2"/>
<circle cx="482.9" cy="36.2" r="1.25" fill="#1a1a1a"/>
<circle cx="486.6" cy="36.2" r="1.25" fill="#1a1a1a"/>
<text x="456.7" y="131.4" font-size="9.04" text-anchor="middle" font-weight="normal" fill="#1e1e1e" textLength="14.1" lengthAdjust="spacingAndGlyphs">B1a</text>
<text x="484.1" y="131.4" font-size="9.04" text-anchor="middle" font-weight="normal" fill="#1e1e1e" textLength="10.2" lengthAdjust="spacingAndGlyphs">B2</text>
<rect x="451.60" y="14.60" width="4.60" height="4.40" fill="#aa0530" stroke="none" stroke-width="0"/>
<rect x="451.60" y="24.40" width="4.60" height="4.40" fill="#2e4682" stroke="none" stroke-width="0"/>
<text x="458.8" y="18.9" font-size="8.36" text-anchor="start" font-weight="normal" fill="#1e1e1e" textLength="11.5" lengthAdjust="spacingAndGlyphs">WT</text>
<text x="458.8" y="28.7" font-size="8.36" text-anchor="start" font-weight="normal" fill="#1e1e1e" textLength="34.5" lengthAdjust="spacingAndGlyphs">IgH-hEBI2</text>
<text transform="translate(418.02,121.00) rotate(-90)" x="0" y="0" font-size="8.4" fill="#1e1e1e" textLength="89.0" lengthAdjust="spacingAndGlyphs">% splenic lymphocytes</text>
<line x1="41.6" y1="209.39999999999998" x2="41.6" y2="294.5" stroke="#111" stroke-width="1.5"/>
<line x1="38.6" y1="212.2" x2="41.6" y2="212.2" stroke="#111" stroke-width="1.0"/>
<text x="35.800000000000004" y="214.89999999999998" font-size="8.7" text-anchor="end" font-weight="normal" fill="#1e1e1e" textLength="12.85" lengthAdjust="spacingAndGlyphs">100</text>
<line x1="39.6" y1="231.23528311808423" x2="41.6" y2="231.23528311808423" stroke="#222" stroke-width="0.65"/>
<line x1="39.6" y1="226.4397311631345" x2="41.6" y2="226.4397311631345" stroke="#222" stroke-width="0.65"/>
<line x1="39.6" y1="223.03723290283514" x2="41.6" y2="223.03723290283514" stroke="#222" stroke-width="0.65"/>
<line x1="39.6" y1="220.39805021524907" x2="41.6" y2="220.39805021524907" stroke="#222" stroke-width="0.65"/>
<line x1="39.6" y1="218.2416809478854" x2="41.6" y2="218.2416809478854" stroke="#222" stroke-width="0.65"/>
<line x1="39.6" y1="216.4184967102784" x2="41.6" y2="216.4184967102784" stroke="#222" stroke-width="0.65"/>
<line x1="39.6" y1="214.83918268758606" x2="41.6" y2="214.83918268758606" stroke="#222" stroke-width="0.65"/>
<line x1="39.6" y1="213.4461289929357" x2="41.6" y2="213.4461289929357" stroke="#222" stroke-width="0.65"/>
<line x1="38.6" y1="239.4333333333333" x2="41.6" y2="239.4333333333333" stroke="#111" stroke-width="1.0"/>
<text x="35.800000000000004" y="242.1333333333333" font-size="8.7" text-anchor="end" font-weight="normal" fill="#1e1e1e" textLength="8.56" lengthAdjust="spacingAndGlyphs">10</text>
<line x1="39.6" y1="258.4686164514175" x2="41.6" y2="258.4686164514175" stroke="#222" stroke-width="0.65"/>
<line x1="39.6" y1="253.67306449646782" x2="41.6" y2="253.67306449646782" stroke="#222" stroke-width="0.65"/>
<line x1="39.6" y1="250.27056623616846" x2="41.6" y2="250.27056623616846" stroke="#222" stroke-width="0.65"/>
<line x1="39.6" y1="247.6313835485824" x2="41.6" y2="247.6313835485824" stroke="#222" stroke-width="0.65"/>
<line x1="39.6" y1="245.47501428121873" x2="41.6" y2="245.47501428121873" stroke="#222" stroke-width="0.65"/>
<line x1="39.6" y1="243.6518300436117" x2="41.6" y2="243.6518300436117" stroke="#222" stroke-width="0.65"/>
<line x1="39.6" y1="242.07251602091938" x2="41.6" y2="242.07251602091938" stroke="#222" stroke-width="0.65"/>
<line x1="39.6" y1="240.679462326269" x2="41.6" y2="240.679462326269" stroke="#222" stroke-width="0.65"/>
<line x1="38.6" y1="266.66666666666663" x2="41.6" y2="266.66666666666663" stroke="#111" stroke-width="1.0"/>
<text x="35.800000000000004" y="269.3666666666666" font-size="8.7" text-anchor="end" font-weight="normal" fill="#1e1e1e" textLength="4.28" lengthAdjust="spacingAndGlyphs">1</text>
<line x1="39.6" y1="285.70194978475087" x2="41.6" y2="285.70194978475087" stroke="#222" stroke-width="0.65"/>
<line x1="39.6" y1="280.90639782980116" x2="41.6" y2="280.90639782980116" stroke="#222" stroke-width="0.65"/>
<line x1="39.6" y1="277.5038995695018" x2="41.6" y2="277.5038995695018" stroke="#222" stroke-width="0.65"/>
<line x1="39.6" y1="274.86471688191574" x2="41.6" y2="274.86471688191574" stroke="#222" stroke-width="0.65"/>
<line x1="39.6" y1="272.7083476145521" x2="41.6" y2="272.7083476145521" stroke="#222" stroke-width="0.65"/>
<line x1="39.6" y1="270.88516337694506" x2="41.6" y2="270.88516337694506" stroke="#222" stroke-width="0.65"/>
<line x1="39.6" y1="269.3058493542527" x2="41.6" y2="269.3058493542527" stroke="#222" stroke-width="0.65"/>
<line x1="39.6" y1="267.91279565960235" x2="41.6" y2="267.91279565960235" stroke="#222" stroke-width="0.65"/>
<line x1="38.6" y1="293.9" x2="41.6" y2="293.9" stroke="#111" stroke-width="1.0"/>
<text x="35.800000000000004" y="296.59999999999997" font-size="8.7" text-anchor="end" font-weight="normal" fill="#1e1e1e" textLength="10.7" lengthAdjust="spacingAndGlyphs">0.1</text>
<line x1="40.9" y1="293.9" x2="96.5" y2="293.9" stroke="#111" stroke-width="1.5"/>
<line x1="55.7" y1="293.9" x2="55.7" y2="296.4" stroke="#111" stroke-width="1.0"/>
<line x1="82.6" y1="293.9" x2="82.6" y2="296.4" stroke="#111" stroke-width="1.0"/>
<line x1="50.0" y1="227.3" x2="50.0" y2="228.4" stroke="#3a0818" stroke-width="1.1"/>
<line x1="47.9" y1="227.3" x2="52.1" y2="227.3" stroke="#3a0818" stroke-width="1.1"/>
<rect x="46.20" y="228.40" width="7.60" height="65.50" fill="#aa0530" stroke="#7e0a28" stroke-width="0.6"/>
<line x1="60.6" y1="213.6" x2="60.6" y2="214.6" stroke="#141c34" stroke-width="1.1"/>
<line x1="58.5" y1="213.6" x2="62.7" y2="213.6" stroke="#141c34" stroke-width="1.1"/>
<rect x="57.00" y="214.60" width="7.20" height="79.30" fill="#2e4682" stroke="#23345c" stroke-width="0.6"/>
<line x1="77.7" y1="225.9" x2="77.7" y2="226.8" stroke="#3a0818" stroke-width="1.1"/>
<line x1="75.60000000000001" y1="225.9" x2="79.8" y2="225.9" stroke="#3a0818" stroke-width="1.1"/>
<rect x="73.90" y="226.80" width="7.60" height="67.10" fill="#aa0530" stroke="#7e0a28" stroke-width="0.6"/>
<line x1="87.7" y1="256.7" x2="87.7" y2="262.2" stroke="#141c34" stroke-width="1.1"/>
<line x1="85.60000000000001" y1="256.7" x2="89.8" y2="256.7" stroke="#141c34" stroke-width="1.1"/>
<rect x="84.20" y="262.20" width="7.00" height="31.70" fill="#2e4682" stroke="#23345c" stroke-width="0.6"/>
<line x1="47.9" y1="211.5" x2="62.6" y2="211.5" stroke="#111" stroke-width="1.2"/>
<circle cx="51.5" cy="207.2" r="1.25" fill="#1a1a1a"/>
<circle cx="55.2" cy="207.2" r="1.25" fill="#1a1a1a"/>
<circle cx="59.0" cy="207.2" r="1.25" fill="#1a1a1a"/>
<line x1="75.2" y1="223.5" x2="91.6" y2="223.5" stroke="#111" stroke-width="1.2"/>
<circle cx="77.7" cy="219.2" r="1.25" fill="#1a1a1a"/>
<circle cx="81.5" cy="219.2" r="1.25" fill="#1a1a1a"/>
<circle cx="85.3" cy="219.2" r="1.25" fill="#1a1a1a"/>
<circle cx="89.1" cy="219.2" r="1.25" fill="#1a1a1a"/>
<text x="55.2" y="307.4" font-size="9.04" text-anchor="middle" font-weight="normal" fill="#1e1e1e" textLength="13.4" lengthAdjust="spacingAndGlyphs">B1a</text>
<text x="82.6" y="307.4" font-size="9.04" text-anchor="middle" font-weight="normal" fill="#1e1e1e" textLength="10.4" lengthAdjust="spacingAndGlyphs">B2</text>
<rect x="47.90" y="190.60" width="4.60" height="4.40" fill="#aa0530" stroke="none" stroke-width="0"/>
<rect x="47.90" y="198.10" width="4.60" height="4.40" fill="#2e4682" stroke="none" stroke-width="0"/>
<text x="56.4" y="194.9" font-size="8.36" text-anchor="start" font-weight="normal" fill="#1e1e1e" textLength="11.5" lengthAdjust="spacingAndGlyphs">WT</text>
<text x="56.4" y="202.4" font-size="8.36" text-anchor="start" font-weight="normal" fill="#1e1e1e" textLength="34.5" lengthAdjust="spacingAndGlyphs">IgH-hEBI2</text>
<text transform="translate(15.92,301.40) rotate(-90)" x="0" y="0" font-size="8.4" fill="#1e1e1e" textLength="99.5" lengthAdjust="spacingAndGlyphs">% peritoneal lymphocytes</text>
<line x1="240.8" y1="359.2" x2="240.8" y2="444.3" stroke="#111" stroke-width="1.5"/>
<line x1="237.8" y1="362.0" x2="240.8" y2="362.0" stroke="#111" stroke-width="1.0"/>
<text x="235.0" y="364.7" font-size="8.7" text-anchor="end" font-weight="normal" fill="#1e1e1e" textLength="12.85" lengthAdjust="spacingAndGlyphs">100</text>
<line x1="238.8" y1="381.03528311808424" x2="240.8" y2="381.03528311808424" stroke="#222" stroke-width="0.65"/>
<line x1="238.8" y1="376.23973116313454" x2="240.8" y2="376.23973116313454" stroke="#222" stroke-width="0.65"/>
<line x1="238.8" y1="372.8372329028352" x2="240.8" y2="372.8372329028352" stroke="#222" stroke-width="0.65"/>
<line x1="238.8" y1="370.1980502152491" x2="240.8" y2="370.1980502152491" stroke="#222" stroke-width="0.65"/>
<line x1="238.8" y1="368.0416809478855" x2="240.8" y2="368.0416809478855" stroke="#222" stroke-width="0.65"/>
<line x1="238.8" y1="366.21849671027843" x2="240.8" y2="366.21849671027843" stroke="#222" stroke-width="0.65"/>
<line x1="238.8" y1="364.63918268758607" x2="240.8" y2="364.63918268758607" stroke="#222" stroke-width="0.65"/>
<line x1="238.8" y1="363.2461289929357" x2="240.8" y2="363.2461289929357" stroke="#222" stroke-width="0.65"/>
<line x1="237.8" y1="389.23333333333335" x2="240.8" y2="389.23333333333335" stroke="#111" stroke-width="1.0"/>
<text x="235.0" y="391.93333333333334" font-size="8.7" text-anchor="end" font-weight="normal" fill="#1e1e1e" textLength="8.56" lengthAdjust="spacingAndGlyphs">10</text>
<line x1="238.8" y1="408.2686164514176" x2="240.8" y2="408.2686164514176" stroke="#222" stroke-width="0.65"/>
<line x1="238.8" y1="403.4730644964679" x2="240.8" y2="403.4730644964679" stroke="#222" stroke-width="0.65"/>
<line x1="238.8" y1="400.07056623616853" x2="240.8" y2="400.07056623616853" stroke="#222" stroke-width="0.65"/>
<line x1="238.8" y1="397.43138354858246" x2="240.8" y2="397.43138354858246" stroke="#222" stroke-width="0.65"/>
<line x1="238.8" y1="395.27501428121883" x2="240.8" y2="395.27501428121883" stroke="#222" stroke-width="0.65"/>
<line x1="238.8" y1="393.4518300436118" x2="240.8" y2="393.4518300436118" stroke="#222" stroke-width="0.65"/>
<line x1="238.8" y1="391.8725160209194" x2="240.8" y2="391.8725160209194" stroke="#222" stroke-width="0.65"/>
<line x1="238.8" y1="390.4794623262691" x2="240.8" y2="390.4794623262691" stroke="#222" stroke-width="0.65"/>
<line x1="237.8" y1="416.46666666666664" x2="240.8" y2="416.46666666666664" stroke="#111" stroke-width="1.0"/>
<text x="235.0" y="419.16666666666663" font-size="8.7" text-anchor="end" font-weight="normal" fill="#1e1e1e" textLength="4.28" lengthAdjust="spacingAndGlyphs">1</text>
<line x1="238.8" y1="435.5019497847509" x2="240.8" y2="435.5019497847509" stroke="#222" stroke-width="0.65"/>
<line x1="238.8" y1="430.7063978298012" x2="240.8" y2="430.7063978298012" stroke="#222" stroke-width="0.65"/>
<line x1="238.8" y1="427.3038995695018" x2="240.8" y2="427.3038995695018" stroke="#222" stroke-width="0.65"/>
<line x1="238.8" y1="424.66471688191575" x2="240.8" y2="424.66471688191575" stroke="#222" stroke-width="0.65"/>
<line x1="238.8" y1="422.5083476145521" x2="240.8" y2="422.5083476145521" stroke="#222" stroke-width="0.65"/>
<line x1="238.8" y1="420.68516337694507" x2="240.8" y2="420.68516337694507" stroke="#222" stroke-width="0.65"/>
<line x1="238.8" y1="419.1058493542527" x2="240.8" y2="419.1058493542527" stroke="#222" stroke-width="0.65"/>
<line x1="238.8" y1="417.71279565960236" x2="240.8" y2="417.71279565960236" stroke="#222" stroke-width="0.65"/>
<line x1="237.8" y1="443.7" x2="240.8" y2="443.7" stroke="#111" stroke-width="1.0"/>
<text x="235.0" y="446.4" font-size="8.7" text-anchor="end" font-weight="normal" fill="#1e1e1e" textLength="10.7" lengthAdjust="spacingAndGlyphs">0.1</text>
<line x1="240.10000000000002" y1="443.7" x2="295.6" y2="443.7" stroke="#111" stroke-width="1.5"/>
<line x1="254.10000000000002" y1="443.7" x2="254.10000000000002" y2="446.2" stroke="#111" stroke-width="1.0"/>
<line x1="280.90000000000003" y1="443.7" x2="280.90000000000003" y2="446.2" stroke="#111" stroke-width="1.0"/>
<line x1="249.2" y1="369.6" x2="249.2" y2="371.5" stroke="#3a0818" stroke-width="1.1"/>
<line x1="247.1" y1="369.6" x2="251.29999999999998" y2="369.6" stroke="#3a0818" stroke-width="1.1"/>
<rect x="245.50" y="371.50" width="7.40" height="72.20" fill="#aa0530" stroke="#7e0a28" stroke-width="0.6"/>
<line x1="259.05" y1="397.3" x2="259.05" y2="401.1" stroke="#141c34" stroke-width="1.1"/>
<line x1="256.95" y1="397.3" x2="261.15000000000003" y2="397.3" stroke="#141c34" stroke-width="1.1"/>
<rect x="255.30" y="401.10" width="7.50" height="42.60" fill="#2e4682" stroke="#23345c" stroke-width="0.6"/>
<line x1="276.35" y1="397.3" x2="276.35" y2="399.9" stroke="#3a0818" stroke-width="1.1"/>
<line x1="274.25" y1="397.3" x2="278.45000000000005" y2="397.3" stroke="#3a0818" stroke-width="1.1"/>
<rect x="272.60" y="399.90" width="7.50" height="43.80" fill="#aa0530" stroke="#7e0a28" stroke-width="0.6"/>
<line x1="286.55" y1="393.0" x2="286.55" y2="397.0" stroke="#141c34" stroke-width="1.1"/>
<line x1="284.45" y1="393.0" x2="288.65000000000003" y2="393.0" stroke="#141c34" stroke-width="1.1"/>
<rect x="282.70" y="397.00" width="7.70" height="46.70" fill="#2e4682" stroke="#23345c" stroke-width="0.6"/>
<line x1="246.10000000000002" y1="366.5" x2="263.3" y2="366.5" stroke="#111" stroke-width="1.2"/>
<circle cx="250.9" cy="362.2" r="1.25" fill="#1a1a1a"/>
<circle cx="254.7" cy="362.2" r="1.25" fill="#1a1a1a"/>
<circle cx="258.5" cy="362.2" r="1.25" fill="#1a1a1a"/>
<text x="254.5" y="456.2" font-size="9.04" text-anchor="middle" font-weight="normal" fill="#1e1e1e" textLength="8.7" lengthAdjust="spacingAndGlyphs">Fo</text>
<text x="281.40000000000003" y="456.2" font-size="9.04" text-anchor="middle" font-weight="normal" fill="#1e1e1e" textLength="11.3" lengthAdjust="spacingAndGlyphs">MZ</text>
<rect x="246.10" y="343.00" width="4.60" height="4.40" fill="#aa0530" stroke="none" stroke-width="0"/>
<rect x="246.10" y="351.10" width="4.60" height="4.40" fill="#2e4682" stroke="none" stroke-width="0"/>
<text x="254.8" y="347.3" font-size="8.36" text-anchor="start" font-weight="normal" fill="#1e1e1e" textLength="11.5" lengthAdjust="spacingAndGlyphs">WT</text>
<text x="254.8" y="355.40000000000003" font-size="8.36" text-anchor="start" font-weight="normal" fill="#1e1e1e" textLength="34.5" lengthAdjust="spacingAndGlyphs">IgH-hEBI2</text>
<text transform="translate(215.02,431.00) rotate(-90)" x="0" y="0" font-size="8.4" fill="#1e1e1e" textLength="59.0" lengthAdjust="spacingAndGlyphs">% lymphocytes</text>
<line x1="340.8" y1="358.59999999999997" x2="340.8" y2="443.40000000000003" stroke="#111" stroke-width="1.5"/>
<line x1="337.8" y1="361.4" x2="340.8" y2="361.4" stroke="#111" stroke-width="1.0"/>
<text x="335.0" y="364.09999999999997" font-size="8.7" text-anchor="end" font-weight="normal" fill="#1e1e1e" textLength="12.85" lengthAdjust="spacingAndGlyphs">100</text>
<line x1="338.8" y1="380.3653861176506" x2="340.8" y2="380.3653861176506" stroke="#222" stroke-width="0.65"/>
<line x1="338.8" y1="375.58744328860644" x2="340.8" y2="375.58744328860644" stroke="#222" stroke-width="0.65"/>
<line x1="338.8" y1="372.1974389019679" x2="340.8" y2="372.1974389019679" stroke="#222" stroke-width="0.65"/>
<line x1="338.8" y1="369.56794721568264" x2="340.8" y2="369.56794721568264" stroke="#222" stroke-width="0.65"/>
<line x1="338.8" y1="367.4194960729238" x2="340.8" y2="367.4194960729238" stroke="#222" stroke-width="0.65"/>
<line x1="338.8" y1="365.6030065142798" x2="340.8" y2="365.6030065142798" stroke="#222" stroke-width="0.65"/>
<line x1="338.8" y1="364.0294916862852" x2="340.8" y2="364.0294916862852" stroke="#222" stroke-width="0.65"/>
<line x1="338.8" y1="362.6415532438796" x2="340.8" y2="362.6415532438796" stroke="#222" stroke-width="0.65"/>
<line x1="337.8" y1="388.5333333333333" x2="340.8" y2="388.5333333333333" stroke="#111" stroke-width="1.0"/>
<text x="335.0" y="391.2333333333333" font-size="8.7" text-anchor="end" font-weight="normal" fill="#1e1e1e" textLength="8.56" lengthAdjust="spacingAndGlyphs">10</text>
<line x1="338.8" y1="407.4987194509839" x2="340.8" y2="407.4987194509839" stroke="#222" stroke-width="0.65"/>
<line x1="338.8" y1="402.72077662193976" x2="340.8" y2="402.72077662193976" stroke="#222" stroke-width="0.65"/>
<line x1="338.8" y1="399.33077223530125" x2="340.8" y2="399.33077223530125" stroke="#222" stroke-width="0.65"/>
<line x1="338.8" y1="396.70128054901596" x2="340.8" y2="396.70128054901596" stroke="#222" stroke-width="0.65"/>
<line x1="338.8" y1="394.5528294062571" x2="340.8" y2="394.5528294062571" stroke="#222" stroke-width="0.65"/>
<line x1="338.8" y1="392.7363398476131" x2="340.8" y2="392.7363398476131" stroke="#222" stroke-width="0.65"/>
<line x1="338.8" y1="391.16282501961854" x2="340.8" y2="391.16282501961854" stroke="#222" stroke-width="0.65"/>
<line x1="338.8" y1="389.77488657721295" x2="340.8" y2="389.77488657721295" stroke="#222" stroke-width="0.65"/>
<line x1="337.8" y1="415.6666666666667" x2="340.8" y2="415.6666666666667" stroke="#111" stroke-width="1.0"/>
<text x="335.0" y="418.3666666666667" font-size="8.7" text-anchor="end" font-weight="normal" fill="#1e1e1e" textLength="4.28" lengthAdjust="spacingAndGlyphs">1</text>
<line x1="338.8" y1="434.6320527843173" x2="340.8" y2="434.6320527843173" stroke="#222" stroke-width="0.65"/>
<line x1="338.8" y1="429.85410995527315" x2="340.8" y2="429.85410995527315" stroke="#222" stroke-width="0.65"/>
<line x1="338.8" y1="426.46410556863464" x2="340.8" y2="426.46410556863464" stroke="#222" stroke-width="0.65"/>
<line x1="338.8" y1="423.83461388234934" x2="340.8" y2="423.83461388234934" stroke="#222" stroke-width="0.65"/>
<line x1="338.8" y1="421.6861627395905" x2="340.8" y2="421.6861627395905" stroke="#222" stroke-width="0.65"/>
<line x1="338.8" y1="419.8696731809465" x2="340.8" y2="419.8696731809465" stroke="#222" stroke-width="0.65"/>
<line x1="338.8" y1="418.2961583529519" x2="340.8" y2="418.2961583529519" stroke="#222" stroke-width="0.65"/>
<line x1="338.8" y1="416.90821991054634" x2="340.8" y2="416.90821991054634" stroke="#222" stroke-width="0.65"/>
<line x1="337.8" y1="442.8" x2="340.8" y2="442.8" stroke="#111" stroke-width="1.0"/>
<text x="335.0" y="445.5" font-size="8.7" text-anchor="end" font-weight="normal" fill="#1e1e1e" textLength="10.7" lengthAdjust="spacingAndGlyphs">0.1</text>
<line x1="340.1" y1="442.8" x2="396.2" y2="442.8" stroke="#111" stroke-width="1.5"/>
<line x1="355.8" y1="442.8" x2="355.8" y2="445.3" stroke="#111" stroke-width="1.0"/>
<line x1="382.7" y1="442.8" x2="382.7" y2="445.3" stroke="#111" stroke-width="1.0"/>
<line x1="350.2" y1="372.6" x2="350.2" y2="377.5" stroke="#3a0818" stroke-width="1.1"/>
<line x1="348.09999999999997" y1="372.6" x2="352.3" y2="372.6" stroke="#3a0818" stroke-width="1.1"/>
<rect x="346.30" y="377.50" width="7.80" height="65.30" fill="#aa0530" stroke="#7e0a28" stroke-width="0.6"/>
<line x1="360.8" y1="397.0" x2="360.8" y2="402.8" stroke="#141c34" stroke-width="1.1"/>
<line x1="358.7" y1="397.0" x2="362.90000000000003" y2="397.0" stroke="#141c34" stroke-width="1.1"/>
<rect x="357.10" y="402.80" width="7.40" height="40.00" fill="#2e4682" stroke="#23345c" stroke-width="0.6"/>
<line x1="378.1" y1="397.3" x2="378.1" y2="401.1" stroke="#3a0818" stroke-width="1.1"/>
<line x1="376.0" y1="397.3" x2="380.20000000000005" y2="397.3" stroke="#3a0818" stroke-width="1.1"/>
<rect x="374.40" y="401.10" width="7.40" height="41.70" fill="#aa0530" stroke="#7e0a28" stroke-width="0.6"/>
<line x1="388.45" y1="390.4" x2="388.45" y2="397.3" stroke="#141c34" stroke-width="1.1"/>
<line x1="386.34999999999997" y1="390.4" x2="390.55" y2="390.4" stroke="#141c34" stroke-width="1.1"/>
<rect x="384.70" y="397.30" width="7.50" height="45.50" fill="#2e4682" stroke="#23345c" stroke-width="0.6"/>
<line x1="346.3" y1="369.5" x2="364.3" y2="369.5" stroke="#111" stroke-width="1.2"/>
<circle cx="351.5" cy="365.2" r="1.25" fill="#1a1a1a"/>
<circle cx="355.3" cy="365.2" r="1.25" fill="#1a1a1a"/>
<circle cx="359.1" cy="365.2" r="1.25" fill="#1a1a1a"/>
<text x="355.8" y="455.9" font-size="9.04" text-anchor="middle" font-weight="normal" fill="#1e1e1e" textLength="8.7" lengthAdjust="spacingAndGlyphs">Fo</text>
<text x="382.8" y="455.9" font-size="9.04" text-anchor="middle" font-weight="normal" fill="#1e1e1e" textLength="11.1" lengthAdjust="spacingAndGlyphs">MZ</text>
<rect x="346.80" y="342.00" width="4.60" height="4.40" fill="#aa0530" stroke="none" stroke-width="0"/>
<rect x="346.80" y="350.10" width="4.60" height="4.40" fill="#2e4682" stroke="none" stroke-width="0"/>
<text x="355.2" y="346.3" font-size="8.36" text-anchor="start" font-weight="normal" fill="#1e1e1e" textLength="11.5" lengthAdjust="spacingAndGlyphs">WT</text>
<text x="355.2" y="354.40000000000003" font-size="8.36" text-anchor="start" font-weight="normal" fill="#1e1e1e" textLength="34.5" lengthAdjust="spacingAndGlyphs">IgH-hEBI2</text>
<text transform="translate(315.62,429.70) rotate(-90)" x="0" y="0" font-size="8.4" fill="#1e1e1e" textLength="58.5" lengthAdjust="spacingAndGlyphs">% lymphocytes</text>
<line x1="143.0" y1="203.6" x2="143.0" y2="292.90000000000003" stroke="#111" stroke-width="1.5"/>
<line x1="140.0" y1="206.4" x2="143.0" y2="206.4" stroke="#111" stroke-width="1.0"/>
<text x="136.8" y="209.1" font-size="8.7" text-anchor="end" font-weight="normal" fill="#1e1e1e" textLength="10.7" lengthAdjust="spacingAndGlyphs">1.5</text>
<line x1="140.0" y1="223.6" x2="143.0" y2="223.6" stroke="#111" stroke-width="1.0"/>
<text x="136.8" y="226.29999999999998" font-size="8.7" text-anchor="end" font-weight="normal" fill="#1e1e1e" textLength="10.7" lengthAdjust="spacingAndGlyphs">1.2</text>
<line x1="140.0" y1="240.8" x2="143.0" y2="240.8" stroke="#111" stroke-width="1.0"/>
<text x="136.8" y="243.5" font-size="8.7" text-anchor="end" font-weight="normal" fill="#1e1e1e" textLength="10.7" lengthAdjust="spacingAndGlyphs">0.9</text>
<line x1="140.0" y1="257.9" x2="143.0" y2="257.9" stroke="#111" stroke-width="1.0"/>
<text x="136.8" y="260.59999999999997" font-size="8.7" text-anchor="end" font-weight="normal" fill="#1e1e1e" textLength="10.7" lengthAdjust="spacingAndGlyphs">0.6</text>
<line x1="140.0" y1="275.1" x2="143.0" y2="275.1" stroke="#111" stroke-width="1.0"/>
<text x="136.8" y="277.8" font-size="8.7" text-anchor="end" font-weight="normal" fill="#1e1e1e" textLength="10.7" lengthAdjust="spacingAndGlyphs">0.3</text>
<line x1="140.0" y1="292.3" x2="143.0" y2="292.3" stroke="#111" stroke-width="1.0"/>
<text x="136.8" y="295.0" font-size="8.7" text-anchor="end" font-weight="normal" fill="#1e1e1e" textLength="10.7" lengthAdjust="spacingAndGlyphs">0.0</text>
<line x1="142.3" y1="292.3" x2="200.6" y2="292.3" stroke="#111" stroke-width="1.5"/>
<line x1="173.5" y1="292.3" x2="173.5" y2="294.90000000000003" stroke="#111" stroke-width="1.0"/>
<text x="154.2" y="305.4" font-size="9.04" text-anchor="start" font-weight="normal" fill="#1e1e1e" textLength="39.3" lengthAdjust="spacingAndGlyphs">Serum IgM</text>
<circle cx="154.3" cy="191.3" r="2.75" fill="#8a1a40" stroke="#14040a" stroke-width="1.15"/>
<circle cx="154.3" cy="199.1" r="2.75" fill="#3c4862" stroke="#14040a" stroke-width="1.15"/>
<text x="160.0" y="194.10000000000002" font-size="8.36" text-anchor="start" font-weight="normal" fill="#1e1e1e" textLength="11.5" lengthAdjust="spacingAndGlyphs">WT</text>
<text x="160.0" y="201.70000000000002" font-size="8.36" text-anchor="start" font-weight="normal" fill="#1e1e1e" textLength="33.5" lengthAdjust="spacingAndGlyphs">IgH-hEBI2</text>
<line x1="158.8" y1="217.5" x2="185.6" y2="217.5" stroke="#111" stroke-width="1.2"/>
<circle cx="168.4" cy="213.2" r="1.25" fill="#1a1a1a"/>
<circle cx="172.2" cy="213.2" r="1.25" fill="#1a1a1a"/>
<circle cx="176.0" cy="213.2" r="1.25" fill="#1a1a1a"/>
<circle cx="155.5" cy="223.8" r="2.35" fill="#8a1a40" stroke="#14040a" stroke-width="1.15"/>
<circle cx="164.7" cy="222.5" r="2.35" fill="#8a1a40" stroke="#14040a" stroke-width="1.15"/>
<circle cx="161.4" cy="225.8" r="2.35" fill="#8a1a40" stroke="#14040a" stroke-width="1.15"/>
<circle cx="158.2" cy="228.4" r="2.35" fill="#8a1a40" stroke="#14040a" stroke-width="1.15"/>
<circle cx="163.4" cy="229.1" r="2.35" fill="#8a1a40" stroke="#14040a" stroke-width="1.15"/>
<circle cx="161.4" cy="232.4" r="2.35" fill="#8a1a40" stroke="#14040a" stroke-width="1.15"/>
<circle cx="160.8" cy="242.9" r="2.35" fill="#8a1a40" stroke="#14040a" stroke-width="1.15"/>
<circle cx="156.8" cy="259.3" r="2.35" fill="#8a1a40" stroke="#14040a" stroke-width="1.15"/>
<circle cx="165.4" cy="258.3" r="2.35" fill="#8a1a40" stroke="#14040a" stroke-width="1.15"/>
<circle cx="160.8" cy="261.3" r="2.35" fill="#8a1a40" stroke="#14040a" stroke-width="1.15"/>
<circle cx="160.8" cy="268.6" r="2.35" fill="#8a1a40" stroke="#14040a" stroke-width="1.15"/>
<circle cx="157.5" cy="224.5" r="2.35" fill="#8a1a40" stroke="#14040a" stroke-width="1.15"/>
<line x1="161.1" y1="234.3" x2="161.1" y2="243.2" stroke="#111" stroke-width="1.0"/>
<line x1="153.6" y1="238.6" x2="168.6" y2="238.6" stroke="#111" stroke-width="1.2"/>
<line x1="157.5" y1="234.3" x2="164.7" y2="234.3" stroke="#111" stroke-width="1.0"/>
<line x1="157.5" y1="243.2" x2="164.7" y2="243.2" stroke="#111" stroke-width="1.0"/>
<circle cx="182.5" cy="223.2" r="2.35" fill="#3c4862" stroke="#14040a" stroke-width="1.15"/>
<circle cx="182.3" cy="255.1" r="2.35" fill="#3c4862" stroke="#14040a" stroke-width="1.15"/>
<circle cx="178.2" cy="263.0" r="2.35" fill="#3c4862" stroke="#14040a" stroke-width="1.15"/>
<circle cx="186.9" cy="263.0" r="2.35" fill="#3c4862" stroke="#14040a" stroke-width="1.15"/>
<circle cx="182.3" cy="265.6" r="2.35" fill="#3c4862" stroke="#14040a" stroke-width="1.15"/>
<circle cx="178.4" cy="270.0" r="2.35" fill="#3c4862" stroke="#14040a" stroke-width="1.15"/>
<circle cx="186.6" cy="270.0" r="2.35" fill="#3c4862" stroke="#14040a" stroke-width="1.15"/>
<circle cx="178.2" cy="272.3" r="2.35" fill="#3c4862" stroke="#14040a" stroke-width="1.15"/>
<circle cx="186.9" cy="272.3" r="2.35" fill="#3c4862" stroke="#14040a" stroke-width="1.15"/>
<circle cx="182.3" cy="273.8" r="2.35" fill="#3c4862" stroke="#14040a" stroke-width="1.15"/>
<circle cx="180.5" cy="268.0" r="2.35" fill="#3c4862" stroke="#14040a" stroke-width="1.15"/>
<circle cx="184.5" cy="268.0" r="2.35" fill="#3c4862" stroke="#14040a" stroke-width="1.15"/>
<line x1="182.4" y1="259.6" x2="182.4" y2="266.5" stroke="#111" stroke-width="1.0"/>
<line x1="175.6" y1="263.0" x2="189.20000000000002" y2="263.0" stroke="#111" stroke-width="1.2"/>
<line x1="179.20000000000002" y1="259.6" x2="185.6" y2="259.6" stroke="#111" stroke-width="1.0"/>
<line x1="179.20000000000002" y1="266.5" x2="185.6" y2="266.5" stroke="#111" stroke-width="1.0"/>
<line x1="247.6" y1="203.29999999999998" x2="247.6" y2="292.90000000000003" stroke="#111" stroke-width="1.5"/>
<line x1="244.6" y1="206.1" x2="247.6" y2="206.1" stroke="#111" stroke-width="1.0"/>
<text x="241.4" y="208.79999999999998" font-size="8.7" text-anchor="end" font-weight="normal" fill="#1e1e1e" textLength="10.7" lengthAdjust="spacingAndGlyphs">0.5</text>
<line x1="244.6" y1="223.3" x2="247.6" y2="223.3" stroke="#111" stroke-width="1.0"/>
<text x="241.4" y="226.0" font-size="8.7" text-anchor="end" font-weight="normal" fill="#1e1e1e" textLength="10.7" lengthAdjust="spacingAndGlyphs">0.4</text>
<line x1="244.6" y1="240.6" x2="247.6" y2="240.6" stroke="#111" stroke-width="1.0"/>
<text x="241.4" y="243.29999999999998" font-size="8.7" text-anchor="end" font-weight="normal" fill="#1e1e1e" textLength="10.7" lengthAdjust="spacingAndGlyphs">0.3</text>
<line x1="244.6" y1="257.8" x2="247.6" y2="257.8" stroke="#111" stroke-width="1.0"/>
<text x="241.4" y="260.5" font-size="8.7" text-anchor="end" font-weight="normal" fill="#1e1e1e" textLength="10.7" lengthAdjust="spacingAndGlyphs">0.2</text>
<line x1="244.6" y1="275.0" x2="247.6" y2="275.0" stroke="#111" stroke-width="1.0"/>
<text x="241.4" y="277.7" font-size="8.7" text-anchor="end" font-weight="normal" fill="#1e1e1e" textLength="10.7" lengthAdjust="spacingAndGlyphs">0.1</text>
<line x1="244.6" y1="292.3" x2="247.6" y2="292.3" stroke="#111" stroke-width="1.0"/>
<text x="241.4" y="295.0" font-size="8.7" text-anchor="end" font-weight="normal" fill="#1e1e1e" textLength="10.7" lengthAdjust="spacingAndGlyphs">0.0</text>
<line x1="246.9" y1="292.3" x2="304.8" y2="292.3" stroke="#111" stroke-width="1.5"/>
<line x1="276.5" y1="292.3" x2="276.5" y2="294.90000000000003" stroke="#111" stroke-width="1.0"/>
<text x="257.3" y="305.4" font-size="9.04" text-anchor="start" font-weight="normal" fill="#1e1e1e" textLength="38.8" lengthAdjust="spacingAndGlyphs">Serum IgG</text>
<circle cx="258.1" cy="191.5" r="2.75" fill="#8a1a40" stroke="#14040a" stroke-width="1.15"/>
<circle cx="258.1" cy="199.3" r="2.75" fill="#3c4862" stroke="#14040a" stroke-width="1.15"/>
<text x="263.6" y="194.3" font-size="8.36" text-anchor="start" font-weight="normal" fill="#1e1e1e" textLength="11.5" lengthAdjust="spacingAndGlyphs">WT</text>
<text x="263.6" y="201.9" font-size="8.36" text-anchor="start" font-weight="normal" fill="#1e1e1e" textLength="33.5" lengthAdjust="spacingAndGlyphs">IgH-hEBI2</text>
<line x1="261.9" y1="226.5" x2="288.6" y2="226.5" stroke="#111" stroke-width="1.2"/>
<circle cx="273.3" cy="222.0" r="1.25" fill="#1a1a1a"/>
<circle cx="277.1" cy="222.0" r="1.25" fill="#1a1a1a"/>
<circle cx="261.9" cy="233.0" r="2.35" fill="#8a1a40" stroke="#14040a" stroke-width="1.15"/>
<circle cx="271.8" cy="234.6" r="2.35" fill="#8a1a40" stroke="#14040a" stroke-width="1.15"/>
<circle cx="268.6" cy="238.6" r="2.35" fill="#8a1a40" stroke="#14040a" stroke-width="1.15"/>
<circle cx="261.9" cy="240.7" r="2.35" fill="#8a1a40" stroke="#14040a" stroke-width="1.15"/>
<circle cx="265.5" cy="241.9" r="2.35" fill="#8a1a40" stroke="#14040a" stroke-width="1.15"/>
<circle cx="261.5" cy="245.2" r="2.35" fill="#8a1a40" stroke="#14040a" stroke-width="1.15"/>
<circle cx="269.2" cy="245.5" r="2.35" fill="#8a1a40" stroke="#14040a" stroke-width="1.15"/>
<circle cx="264.3" cy="248.5" r="2.35" fill="#8a1a40" stroke="#14040a" stroke-width="1.15"/>
<circle cx="266.8" cy="250.4" r="2.35" fill="#8a1a40" stroke="#14040a" stroke-width="1.15"/>
<circle cx="261.9" cy="247.6" r="2.35" fill="#8a1a40" stroke="#14040a" stroke-width="1.15"/>
<circle cx="262.0" cy="258.5" r="2.35" fill="#8a1a40" stroke="#14040a" stroke-width="1.15"/>
<circle cx="268.5" cy="257.2" r="2.35" fill="#8a1a40" stroke="#14040a" stroke-width="1.15"/>
<line x1="265.0" y1="243.8" x2="265.0" y2="247.0" stroke="#111" stroke-width="1.0"/>
<line x1="258.5" y1="245.4" x2="271.5" y2="245.4" stroke="#111" stroke-width="1.2"/>
<line x1="262.0" y1="243.8" x2="268.0" y2="243.8" stroke="#111" stroke-width="1.0"/>
<line x1="262.0" y1="247.0" x2="268.0" y2="247.0" stroke="#111" stroke-width="1.0"/>
<circle cx="286.8" cy="237.9" r="2.35" fill="#3c4862" stroke="#14040a" stroke-width="1.15"/>
<circle cx="283.2" cy="254.0" r="2.35" fill="#3c4862" stroke="#14040a" stroke-width="1.15"/>
<circle cx="287.6" cy="252.7" r="2.35" fill="#3c4862" stroke="#14040a" stroke-width="1.15"/>
<circle cx="291.2" cy="255.4" r="2.35" fill="#3c4862" stroke="#14040a" stroke-width="1.15"/>
<circle cx="284.5" cy="257.4" r="2.35" fill="#3c4862" stroke="#14040a" stroke-width="1.15"/>
<circle cx="289.0" cy="258.6" r="2.35" fill="#3c4862" stroke="#14040a" stroke-width="1.15"/>
<circle cx="292.0" cy="258.9" r="2.35" fill="#3c4862" stroke="#14040a" stroke-width="1.15"/>
<circle cx="286.0" cy="259.8" r="2.35" fill="#3c4862" stroke="#14040a" stroke-width="1.15"/>
<circle cx="283.0" cy="258.5" r="2.35" fill="#3c4862" stroke="#14040a" stroke-width="1.15"/>
<line x1="287.5" y1="254.5" x2="287.5" y2="258.0" stroke="#111" stroke-width="1.0"/>
<line x1="281.5" y1="256.3" x2="293.5" y2="256.3" stroke="#111" stroke-width="1.2"/>
<line x1="284.5" y1="254.5" x2="290.5" y2="254.5" stroke="#111" stroke-width="1.0"/>
<line x1="284.5" y1="258.0" x2="290.5" y2="258.0" stroke="#111" stroke-width="1.0"/>
<line x1="351.6" y1="203.29999999999998" x2="351.6" y2="292.90000000000003" stroke="#111" stroke-width="1.5"/>
<line x1="348.6" y1="206.1" x2="351.6" y2="206.1" stroke="#111" stroke-width="1.0"/>
<text x="345.40000000000003" y="208.79999999999998" font-size="8.7" text-anchor="end" font-weight="normal" fill="#1e1e1e" textLength="10.7" lengthAdjust="spacingAndGlyphs">2.0</text>
<line x1="348.6" y1="227.7" x2="351.6" y2="227.7" stroke="#111" stroke-width="1.0"/>
<text x="345.40000000000003" y="230.39999999999998" font-size="8.7" text-anchor="end" font-weight="normal" fill="#1e1e1e" textLength="10.7" lengthAdjust="spacingAndGlyphs">1.5</text>
<line x1="348.6" y1="249.3" x2="351.6" y2="249.3" stroke="#111" stroke-width="1.0"/>
<text x="345.40000000000003" y="252.0" font-size="8.7" text-anchor="end" font-weight="normal" fill="#1e1e1e" textLength="10.7" lengthAdjust="spacingAndGlyphs">1.0</text>
<line x1="348.6" y1="270.8" x2="351.6" y2="270.8" stroke="#111" stroke-width="1.0"/>
<text x="345.40000000000003" y="273.5" font-size="8.7" text-anchor="end" font-weight="normal" fill="#1e1e1e" textLength="10.7" lengthAdjust="spacingAndGlyphs">0.5</text>
<line x1="348.6" y1="292.3" x2="351.6" y2="292.3" stroke="#111" stroke-width="1.0"/>
<text x="345.40000000000003" y="295.0" font-size="8.7" text-anchor="end" font-weight="normal" fill="#1e1e1e" textLength="10.7" lengthAdjust="spacingAndGlyphs">0.0</text>
<line x1="350.90000000000003" y1="292.3" x2="408.8" y2="292.3" stroke="#111" stroke-width="1.5"/>
<line x1="381.6" y1="292.3" x2="381.6" y2="294.90000000000003" stroke="#111" stroke-width="1.0"/>
<text x="352.8" y="305.4" font-size="9.04" text-anchor="start" font-weight="normal" fill="#1e1e1e" textLength="58.1" lengthAdjust="spacingAndGlyphs">Anti-dsDNA IgM</text>
<circle cx="362.7" cy="191.4" r="2.75" fill="#8a1a40" stroke="#14040a" stroke-width="1.15"/>
<circle cx="362.7" cy="199.2" r="2.75" fill="#3c4862" stroke="#14040a" stroke-width="1.15"/>
<text x="368.1" y="194.20000000000002" font-size="8.36" text-anchor="start" font-weight="normal" fill="#1e1e1e" textLength="11.5" lengthAdjust="spacingAndGlyphs">WT</text>
<text x="368.1" y="201.8" font-size="8.36" text-anchor="start" font-weight="normal" fill="#1e1e1e" textLength="33.5" lengthAdjust="spacingAndGlyphs">IgH-hEBI2</text>
<line x1="368.1" y1="212.5" x2="394.2" y2="212.5" stroke="#111" stroke-width="1.2"/>
<circle cx="377.0" cy="208.3" r="1.25" fill="#1a1a1a"/>
<circle cx="380.8" cy="208.3" r="1.25" fill="#1a1a1a"/>
<circle cx="384.6" cy="208.3" r="1.25" fill="#1a1a1a"/>
<circle cx="366.5" cy="217.5" r="2.35" fill="#8a1a40" stroke="#14040a" stroke-width="1.15"/>
<circle cx="372.9" cy="220.6" r="2.35" fill="#8a1a40" stroke="#14040a" stroke-width="1.15"/>
<circle cx="369.7" cy="229.2" r="2.35" fill="#8a1a40" stroke="#14040a" stroke-width="1.15"/>
<circle cx="369.9" cy="243.1" r="2.35" fill="#8a1a40" stroke="#14040a" stroke-width="1.15"/>
<circle cx="365.4" cy="248.5" r="2.35" fill="#8a1a40" stroke="#14040a" stroke-width="1.15"/>
<circle cx="375.4" cy="249.5" r="2.35" fill="#8a1a40" stroke="#14040a" stroke-width="1.15"/>
<circle cx="370.8" cy="251.5" r="2.35" fill="#8a1a40" stroke="#14040a" stroke-width="1.15"/>
<circle cx="365.4" cy="254.6" r="2.35" fill="#8a1a40" stroke="#14040a" stroke-width="1.15"/>
<circle cx="372.3" cy="255.4" r="2.35" fill="#8a1a40" stroke="#14040a" stroke-width="1.15"/>
<circle cx="369.2" cy="259.2" r="2.35" fill="#8a1a40" stroke="#14040a" stroke-width="1.15"/>
<circle cx="369.7" cy="272.6" r="2.35" fill="#8a1a40" stroke="#14040a" stroke-width="1.15"/>
<circle cx="367.5" cy="250.5" r="2.35" fill="#8a1a40" stroke="#14040a" stroke-width="1.15"/>
<line x1="370.0" y1="245.6" x2="370.0" y2="251.5" stroke="#111" stroke-width="1.0"/>
<line x1="363.5" y1="248.6" x2="376.5" y2="248.6" stroke="#111" stroke-width="1.2"/>
<line x1="366.8" y1="245.6" x2="373.2" y2="245.6" stroke="#111" stroke-width="1.0"/>
<line x1="366.8" y1="251.5" x2="373.2" y2="251.5" stroke="#111" stroke-width="1.0"/>
<circle cx="391.5" cy="243.1" r="2.35" fill="#3c4862" stroke="#14040a" stroke-width="1.15"/>
<circle cx="391.5" cy="256.6" r="2.35" fill="#3c4862" stroke="#14040a" stroke-width="1.15"/>
<circle cx="387.5" cy="269.5" r="2.35" fill="#3c4862" stroke="#14040a" stroke-width="1.15"/>
<circle cx="395.5" cy="269.5" r="2.35" fill="#3c4862" stroke="#14040a" stroke-width="1.15"/>
<circle cx="391.5" cy="271.0" r="2.35" fill="#3c4862" stroke="#14040a" stroke-width="1.15"/>
<circle cx="388.0" cy="273.5" r="2.35" fill="#3c4862" stroke="#14040a" stroke-width="1.15"/>
<circle cx="395.0" cy="273.5" r="2.35" fill="#3c4862" stroke="#14040a" stroke-width="1.15"/>
<circle cx="391.5" cy="275.0" r="2.35" fill="#3c4862" stroke="#14040a" stroke-width="1.15"/>
<circle cx="389.5" cy="271.5" r="2.35" fill="#3c4862" stroke="#14040a" stroke-width="1.15"/>
<circle cx="393.5" cy="271.5" r="2.35" fill="#3c4862" stroke="#14040a" stroke-width="1.15"/>
<line x1="391.8" y1="265.4" x2="391.8" y2="271.0" stroke="#111" stroke-width="1.0"/>
<line x1="385.3" y1="268.5" x2="398.3" y2="268.5" stroke="#111" stroke-width="1.2"/>
<line x1="388.6" y1="265.4" x2="395.0" y2="265.4" stroke="#111" stroke-width="1.0"/>
<line x1="388.6" y1="271.0" x2="395.0" y2="271.0" stroke="#111" stroke-width="1.0"/>
<text transform="translate(118.80,263.30) rotate(-90)" x="0" y="0" font-size="8.6" fill="#1e1e1e" textLength="31.5" lengthAdjust="spacingAndGlyphs">Abs 405</text>
<text transform="translate(223.80,263.30) rotate(-90)" x="0" y="0" font-size="8.6" fill="#1e1e1e" textLength="31.5" lengthAdjust="spacingAndGlyphs">Abs 405</text>
<text transform="translate(327.80,263.30) rotate(-90)" x="0" y="0" font-size="8.6" fill="#1e1e1e" textLength="31.5" lengthAdjust="spacingAndGlyphs">Abs 405</text>
<g filter="url(#d5)"><rect x="46.9" y="337.9" width="57.800000000000004" height="56.700000000000045" fill="#000" fill-opacity="0"/>
<ellipse cx="66" cy="380" rx="22" ry="12" transform="rotate(-40 66 380)" fill="url(#rg)" fill-opacity="0.22"/>
<ellipse cx="57" cy="386" rx="9" ry="8" transform="rotate(0 57 386)" fill="url(#rg)" fill-opacity="0.16"/>
<ellipse cx="67" cy="372.5" rx="12" ry="9" transform="rotate(0 67 372.5)" fill="url(#rg)" fill-opacity="0.3"/>
<ellipse cx="62.2" cy="372.8" rx="6.5" ry="7.0" transform="rotate(0 62.2 372.8)" fill="url(#rg)" fill-opacity="0.42"/>
<ellipse cx="72.0" cy="372.2" rx="6.0" ry="7.0" transform="rotate(0 72.0 372.2)" fill="url(#rg)" fill-opacity="0.42"/>
<ellipse cx="62.2" cy="372.8" rx="3.2" ry="3.2" transform="rotate(0 62.2 372.8)" fill="url(#rg)" fill-opacity="0.08"/>
<ellipse cx="72.0" cy="372.2" rx="3.0" ry="3.2" transform="rotate(0 72.0 372.2)" fill="url(#rg)" fill-opacity="0.06"/>
<ellipse cx="79" cy="360.6" rx="17" ry="7.5" transform="rotate(-15 79 360.6)" fill="url(#rg)" fill-opacity="0.5"/>
<ellipse cx="80.5" cy="359.8" rx="11" ry="4.6" transform="rotate(-12 80.5 359.8)" fill="url(#rg)" fill-opacity="0.55"/>
<ellipse cx="81.4" cy="359.5" rx="4.5" ry="2.0" transform="rotate(-12 81.4 359.5)" fill="url(#rg)" fill-opacity="0.75"/>
<ellipse cx="68" cy="366" rx="10" ry="4" transform="rotate(-30 68 366)" fill="url(#rg)" fill-opacity="0.3"/>
<ellipse cx="58" cy="362" rx="10" ry="3" transform="rotate(0 58 362)" fill="url(#rg)" fill-opacity="0.1"/>
</g>
<g filter="url(#d6)"><rect x="46.9" y="403.6" width="57.800000000000004" height="57.39999999999998" fill="#000" fill-opacity="0"/>
<ellipse cx="66" cy="446" rx="24" ry="12" transform="rotate(-40 66 446)" fill="url(#rg)" fill-opacity="0.22"/>
<ellipse cx="60" cy="452" rx="10" ry="7" transform="rotate(0 60 452)" fill="url(#rg)" fill-opacity="0.16"/>
<ellipse cx="70" cy="436" rx="22" ry="9" transform="rotate(-35 70 436)" fill="url(#rg)" fill-opacity="0.42"/>
<ellipse cx="62.7" cy="439.8" rx="6.5" ry="6.5" transform="rotate(0 62.7 439.8)" fill="url(#rg)" fill-opacity="0.5"/>
<ellipse cx="72.5" cy="439.4" rx="6.5" ry="6.5" transform="rotate(0 72.5 439.4)" fill="url(#rg)" fill-opacity="0.5"/>
<ellipse cx="62.7" cy="439.8" rx="3.4" ry="3.4" transform="rotate(0 62.7 439.8)" fill="url(#rg)" fill-opacity="0.85"/>
<ellipse cx="72.5" cy="439.4" rx="3.4" ry="3.4" transform="rotate(0 72.5 439.4)" fill="url(#rg)" fill-opacity="0.85"/>
<ellipse cx="81.8" cy="435.5" rx="6.5" ry="6.5" transform="rotate(0 81.8 435.5)" fill="url(#rg)" fill-opacity="0.55"/>
<ellipse cx="81.8" cy="435.5" rx="2.5" ry="2.5" transform="rotate(0 81.8 435.5)" fill="url(#rg)" fill-opacity="0.3"/>
<ellipse cx="80.6" cy="425.8" rx="12" ry="6" transform="rotate(-20 80.6 425.8)" fill="url(#rg)" fill-opacity="0.55"/>
<ellipse cx="80.6" cy="425.8" rx="6" ry="2.8" transform="rotate(-20 80.6 425.8)" fill="url(#rg)" fill-opacity="0.3"/>
<ellipse cx="58" cy="426" rx="10" ry="4" transform="rotate(0 58 426)" fill="url(#rg)" fill-opacity="0.1"/>
</g>
<g filter="url(#d7)"><rect x="133.8" y="337.9" width="57.39999999999998" height="56.700000000000045" fill="#000" fill-opacity="0"/>
<ellipse cx="146" cy="372" rx="9.5" ry="11" transform="rotate(0 146 372)" fill="url(#rg)" fill-opacity="0.55"/>
<ellipse cx="145.8" cy="371.1" rx="6" ry="6.5" transform="rotate(0 145.8 371.1)" fill="url(#rg)" fill-opacity="0.7"/>
<ellipse cx="145.8" cy="371.1" rx="2.5" ry="3" transform="rotate(0 145.8 371.1)" fill="url(#rg)" fill-opacity="0.5"/>
<ellipse cx="141.5" cy="385" rx="5" ry="10" transform="rotate(0 141.5 385)" fill="url(#rg)" fill-opacity="0.62"/>
<ellipse cx="142.5" cy="380" rx="4" ry="5" transform="rotate(0 142.5 380)" fill="url(#rg)" fill-opacity="0.3"/>
<ellipse cx="152.5" cy="386" rx="6.5" ry="10" transform="rotate(0 152.5 386)" fill="url(#rg)" fill-opacity="0.3"/>
<ellipse cx="150" cy="380" rx="11" ry="13" transform="rotate(0 150 380)" fill="url(#rg)" fill-opacity="0.1"/>
<ellipse cx="157" cy="370" rx="4" ry="5" transform="rotate(0 157 370)" fill="url(#rg)" fill-opacity="0.1"/>
</g>
<g filter="url(#d8)"><rect x="133.8" y="403.6" width="57.39999999999998" height="56.69999999999999" fill="#000" fill-opacity="0"/>
<ellipse cx="146" cy="435" rx="9" ry="10" transform="rotate(0 146 435)" fill="url(#rg)" fill-opacity="0.27"/>
<ellipse cx="145" cy="437" rx="5" ry="5" transform="rotate(0 145 437)" fill="url(#rg)" fill-opacity="0.12"/>
<ellipse cx="141.4" cy="450.5" rx="4.5" ry="8" transform="rotate(0 141.4 450.5)" fill="url(#rg)" fill-opacity="0.6"/>
<ellipse cx="141.4" cy="450.5" rx="2.2" ry="3" transform="rotate(0 141.4 450.5)" fill="url(#rg)" fill-opacity="0.6"/>
<ellipse cx="151" cy="451" rx="6.5" ry="10" transform="rotate(0 151 451)" fill="url(#rg)" fill-opacity="0.42"/>
<ellipse cx="150" cy="445" rx="11" ry="14" transform="rotate(0 150 445)" fill="url(#rg)" fill-opacity="0.1"/>
</g>
<line x1="46.4" y1="337.4" x2="105.2" y2="337.4" stroke="#8a8a8a" stroke-width="1.1"/>
<line x1="105.2" y1="337.4" x2="105.2" y2="395.1" stroke="#8a8a8a" stroke-width="1.1"/>
<line x1="46.4" y1="336.9" x2="46.4" y2="395.70000000000005" stroke="#2a2a2a" stroke-width="1.3"/>
<line x1="45.8" y1="395.1" x2="105.7" y2="395.1" stroke="#2a2a2a" stroke-width="1.3"/>
<line x1="45.199999999999996" y1="341.52142857142854" x2="46.4" y2="341.52142857142854" stroke="#555" stroke-width="0.6"/>
<line x1="50.6" y1="395.1" x2="50.6" y2="396.3" stroke="#555" stroke-width="0.6"/>
<line x1="45.199999999999996" y1="345.6428571428571" x2="46.4" y2="345.6428571428571" stroke="#555" stroke-width="0.6"/>
<line x1="54.8" y1="395.1" x2="54.8" y2="396.3" stroke="#555" stroke-width="0.6"/>
<line x1="45.199999999999996" y1="349.7642857142857" x2="46.4" y2="349.7642857142857" stroke="#555" stroke-width="0.6"/>
<line x1="59.0" y1="395.1" x2="59.0" y2="396.3" stroke="#555" stroke-width="0.6"/>
<line x1="45.199999999999996" y1="353.8857142857143" x2="46.4" y2="353.8857142857143" stroke="#555" stroke-width="0.6"/>
<line x1="63.2" y1="395.1" x2="63.2" y2="396.3" stroke="#555" stroke-width="0.6"/>
<line x1="45.199999999999996" y1="358.00714285714287" x2="46.4" y2="358.00714285714287" stroke="#555" stroke-width="0.6"/>
<line x1="67.4" y1="395.1" x2="67.4" y2="396.3" stroke="#555" stroke-width="0.6"/>
<line x1="45.199999999999996" y1="362.12857142857143" x2="46.4" y2="362.12857142857143" stroke="#555" stroke-width="0.6"/>
<line x1="71.6" y1="395.1" x2="71.6" y2="396.3" stroke="#555" stroke-width="0.6"/>
<line x1="45.199999999999996" y1="366.25" x2="46.4" y2="366.25" stroke="#555" stroke-width="0.6"/>
<line x1="75.8" y1="395.1" x2="75.8" y2="396.3" stroke="#555" stroke-width="0.6"/>
<line x1="45.199999999999996" y1="370.37142857142857" x2="46.4" y2="370.37142857142857" stroke="#555" stroke-width="0.6"/>
<line x1="80.0" y1="395.1" x2="80.0" y2="396.3" stroke="#555" stroke-width="0.6"/>
<line x1="45.199999999999996" y1="374.49285714285713" x2="46.4" y2="374.49285714285713" stroke="#555" stroke-width="0.6"/>
<line x1="84.2" y1="395.1" x2="84.2" y2="396.3" stroke="#555" stroke-width="0.6"/>
<line x1="45.199999999999996" y1="378.6142857142857" x2="46.4" y2="378.6142857142857" stroke="#555" stroke-width="0.6"/>
<line x1="88.4" y1="395.1" x2="88.4" y2="396.3" stroke="#555" stroke-width="0.6"/>
<line x1="45.199999999999996" y1="382.7357142857143" x2="46.4" y2="382.7357142857143" stroke="#555" stroke-width="0.6"/>
<line x1="92.6" y1="395.1" x2="92.6" y2="396.3" stroke="#555" stroke-width="0.6"/>
<line x1="45.199999999999996" y1="386.8571428571429" x2="46.4" y2="386.8571428571429" stroke="#555" stroke-width="0.6"/>
<line x1="96.8" y1="395.1" x2="96.8" y2="396.3" stroke="#555" stroke-width="0.6"/>
<line x1="45.199999999999996" y1="390.97857142857146" x2="46.4" y2="390.97857142857146" stroke="#555" stroke-width="0.6"/>
<line x1="101.0" y1="395.1" x2="101.0" y2="396.3" stroke="#555" stroke-width="0.6"/>
<line x1="46.4" y1="403.1" x2="105.2" y2="403.1" stroke="#8a8a8a" stroke-width="1.1"/>
<line x1="105.2" y1="403.1" x2="105.2" y2="461.5" stroke="#8a8a8a" stroke-width="1.1"/>
<line x1="46.4" y1="402.6" x2="46.4" y2="462.1" stroke="#2a2a2a" stroke-width="1.3"/>
<line x1="45.8" y1="461.5" x2="105.7" y2="461.5" stroke="#2a2a2a" stroke-width="1.3"/>
<line x1="45.199999999999996" y1="407.2714285714286" x2="46.4" y2="407.2714285714286" stroke="#555" stroke-width="0.6"/>
<line x1="50.6" y1="461.5" x2="50.6" y2="462.7" stroke="#555" stroke-width="0.6"/>
<line x1="45.199999999999996" y1="411.4428571428572" x2="46.4" y2="411.4428571428572" stroke="#555" stroke-width="0.6"/>
<line x1="54.8" y1="461.5" x2="54.8" y2="462.7" stroke="#555" stroke-width="0.6"/>
<line x1="45.199999999999996" y1="415.61428571428576" x2="46.4" y2="415.61428571428576" stroke="#555" stroke-width="0.6"/>
<line x1="59.0" y1="461.5" x2="59.0" y2="462.7" stroke="#555" stroke-width="0.6"/>
<line x1="45.199999999999996" y1="419.7857142857143" x2="46.4" y2="419.7857142857143" stroke="#555" stroke-width="0.6"/>
<line x1="63.2" y1="461.5" x2="63.2" y2="462.7" stroke="#555" stroke-width="0.6"/>
<line x1="45.199999999999996" y1="423.95714285714286" x2="46.4" y2="423.95714285714286" stroke="#555" stroke-width="0.6"/>
<line x1="67.4" y1="461.5" x2="67.4" y2="462.7" stroke="#555" stroke-width="0.6"/>
<line x1="45.199999999999996" y1="428.12857142857143" x2="46.4" y2="428.12857142857143" stroke="#555" stroke-width="0.6"/>
<line x1="71.6" y1="461.5" x2="71.6" y2="462.7" stroke="#555" stroke-width="0.6"/>
<line x1="45.199999999999996" y1="432.3" x2="46.4" y2="432.3" stroke="#555" stroke-width="0.6"/>
<line x1="75.8" y1="461.5" x2="75.8" y2="462.7" stroke="#555" stroke-width="0.6"/>
<line x1="45.199999999999996" y1="436.4714285714286" x2="46.4" y2="436.4714285714286" stroke="#555" stroke-width="0.6"/>
<line x1="80.0" y1="461.5" x2="80.0" y2="462.7" stroke="#555" stroke-width="0.6"/>
<line x1="45.199999999999996" y1="440.64285714285717" x2="46.4" y2="440.64285714285717" stroke="#555" stroke-width="0.6"/>
<line x1="84.2" y1="461.5" x2="84.2" y2="462.7" stroke="#555" stroke-width="0.6"/>
<line x1="45.199999999999996" y1="444.81428571428575" x2="46.4" y2="444.81428571428575" stroke="#555" stroke-width="0.6"/>
<line x1="88.4" y1="461.5" x2="88.4" y2="462.7" stroke="#555" stroke-width="0.6"/>
<line x1="45.199999999999996" y1="448.98571428571427" x2="46.4" y2="448.98571428571427" stroke="#555" stroke-width="0.6"/>
<line x1="92.6" y1="461.5" x2="92.6" y2="462.7" stroke="#555" stroke-width="0.6"/>
<line x1="45.199999999999996" y1="453.15714285714284" x2="46.4" y2="453.15714285714284" stroke="#555" stroke-width="0.6"/>
<line x1="96.8" y1="461.5" x2="96.8" y2="462.7" stroke="#555" stroke-width="0.6"/>
<line x1="45.199999999999996" y1="457.3285714285714" x2="46.4" y2="457.3285714285714" stroke="#555" stroke-width="0.6"/>
<line x1="101.0" y1="461.5" x2="101.0" y2="462.7" stroke="#555" stroke-width="0.6"/>
<line x1="133.3" y1="337.4" x2="191.7" y2="337.4" stroke="#8a8a8a" stroke-width="1.1"/>
<line x1="191.7" y1="337.4" x2="191.7" y2="395.1" stroke="#8a8a8a" stroke-width="1.1"/>
<line x1="133.3" y1="336.9" x2="133.3" y2="395.70000000000005" stroke="#2a2a2a" stroke-width="1.3"/>
<line x1="132.70000000000002" y1="395.1" x2="192.2" y2="395.1" stroke="#2a2a2a" stroke-width="1.3"/>
<line x1="132.10000000000002" y1="341.52142857142854" x2="133.3" y2="341.52142857142854" stroke="#555" stroke-width="0.6"/>
<line x1="137.4714285714286" y1="395.1" x2="137.4714285714286" y2="396.3" stroke="#555" stroke-width="0.6"/>
<line x1="132.10000000000002" y1="345.6428571428571" x2="133.3" y2="345.6428571428571" stroke="#555" stroke-width="0.6"/>
<line x1="141.64285714285714" y1="395.1" x2="141.64285714285714" y2="396.3" stroke="#555" stroke-width="0.6"/>
<line x1="132.10000000000002" y1="349.7642857142857" x2="133.3" y2="349.7642857142857" stroke="#555" stroke-width="0.6"/>
<line x1="145.81428571428572" y1="395.1" x2="145.81428571428572" y2="396.3" stroke="#555" stroke-width="0.6"/>
<line x1="132.10000000000002" y1="353.8857142857143" x2="133.3" y2="353.8857142857143" stroke="#555" stroke-width="0.6"/>
<line x1="149.9857142857143" y1="395.1" x2="149.9857142857143" y2="396.3" stroke="#555" stroke-width="0.6"/>
<line x1="132.10000000000002" y1="358.00714285714287" x2="133.3" y2="358.00714285714287" stroke="#555" stroke-width="0.6"/>
<line x1="154.15714285714287" y1="395.1" x2="154.15714285714287" y2="396.3" stroke="#555" stroke-width="0.6"/>
<line x1="132.10000000000002" y1="362.12857142857143" x2="133.3" y2="362.12857142857143" stroke="#555" stroke-width="0.6"/>
<line x1="158.32857142857142" y1="395.1" x2="158.32857142857142" y2="396.3" stroke="#555" stroke-width="0.6"/>
<line x1="132.10000000000002" y1="366.25" x2="133.3" y2="366.25" stroke="#555" stroke-width="0.6"/>
<line x1="162.5" y1="395.1" x2="162.5" y2="396.3" stroke="#555" stroke-width="0.6"/>
<line x1="132.10000000000002" y1="370.37142857142857" x2="133.3" y2="370.37142857142857" stroke="#555" stroke-width="0.6"/>
<line x1="166.67142857142858" y1="395.1" x2="166.67142857142858" y2="396.3" stroke="#555" stroke-width="0.6"/>
<line x1="132.10000000000002" y1="374.49285714285713" x2="133.3" y2="374.49285714285713" stroke="#555" stroke-width="0.6"/>
<line x1="170.84285714285716" y1="395.1" x2="170.84285714285716" y2="396.3" stroke="#555" stroke-width="0.6"/>
<line x1="132.10000000000002" y1="378.6142857142857" x2="133.3" y2="378.6142857142857" stroke="#555" stroke-width="0.6"/>
<line x1="175.0142857142857" y1="395.1" x2="175.0142857142857" y2="396.3" stroke="#555" stroke-width="0.6"/>
<line x1="132.10000000000002" y1="382.7357142857143" x2="133.3" y2="382.7357142857143" stroke="#555" stroke-width="0.6"/>
<line x1="179.18571428571428" y1="395.1" x2="179.18571428571428" y2="396.3" stroke="#555" stroke-width="0.6"/>
<line x1="132.10000000000002" y1="386.8571428571429" x2="133.3" y2="386.8571428571429" stroke="#555" stroke-width="0.6"/>
<line x1="183.35714285714283" y1="395.1" x2="183.35714285714283" y2="396.3" stroke="#555" stroke-width="0.6"/>
<line x1="132.10000000000002" y1="390.97857142857146" x2="133.3" y2="390.97857142857146" stroke="#555" stroke-width="0.6"/>
<line x1="187.5285714285714" y1="395.1" x2="187.5285714285714" y2="396.3" stroke="#555" stroke-width="0.6"/>
<line x1="133.3" y1="403.1" x2="191.7" y2="403.1" stroke="#8a8a8a" stroke-width="1.1"/>
<line x1="191.7" y1="403.1" x2="191.7" y2="460.8" stroke="#8a8a8a" stroke-width="1.1"/>
<line x1="133.3" y1="402.6" x2="133.3" y2="461.40000000000003" stroke="#2a2a2a" stroke-width="1.3"/>
<line x1="132.70000000000002" y1="460.8" x2="192.2" y2="460.8" stroke="#2a2a2a" stroke-width="1.3"/>
<line x1="132.10000000000002" y1="407.2214285714286" x2="133.3" y2="407.2214285714286" stroke="#555" stroke-width="0.6"/>
<line x1="137.4714285714286" y1="460.8" x2="137.4714285714286" y2="462.0" stroke="#555" stroke-width="0.6"/>
<line x1="132.10000000000002" y1="411.34285714285716" x2="133.3" y2="411.34285714285716" stroke="#555" stroke-width="0.6"/>
<line x1="141.64285714285714" y1="460.8" x2="141.64285714285714" y2="462.0" stroke="#555" stroke-width="0.6"/>
<line x1="132.10000000000002" y1="415.4642857142857" x2="133.3" y2="415.4642857142857" stroke="#555" stroke-width="0.6"/>
<line x1="145.81428571428572" y1="460.8" x2="145.81428571428572" y2="462.0" stroke="#555" stroke-width="0.6"/>
<line x1="132.10000000000002" y1="419.5857142857143" x2="133.3" y2="419.5857142857143" stroke="#555" stroke-width="0.6"/>
<line x1="149.9857142857143" y1="460.8" x2="149.9857142857143" y2="462.0" stroke="#555" stroke-width="0.6"/>
<line x1="132.10000000000002" y1="423.70714285714286" x2="133.3" y2="423.70714285714286" stroke="#555" stroke-width="0.6"/>
<line x1="154.15714285714287" y1="460.8" x2="154.15714285714287" y2="462.0" stroke="#555" stroke-width="0.6"/>
<line x1="132.10000000000002" y1="427.8285714285714" x2="133.3" y2="427.8285714285714" stroke="#555" stroke-width="0.6"/>
<line x1="158.32857142857142" y1="460.8" x2="158.32857142857142" y2="462.0" stroke="#555" stroke-width="0.6"/>
<line x1="132.10000000000002" y1="431.95000000000005" x2="133.3" y2="431.95000000000005" stroke="#555" stroke-width="0.6"/>
<line x1="162.5" y1="460.8" x2="162.5" y2="462.0" stroke="#555" stroke-width="0.6"/>
<line x1="132.10000000000002" y1="436.0714285714286" x2="133.3" y2="436.0714285714286" stroke="#555" stroke-width="0.6"/>
<line x1="166.67142857142858" y1="460.8" x2="166.67142857142858" y2="462.0" stroke="#555" stroke-width="0.6"/>
<line x1="132.10000000000002" y1="440.1928571428572" x2="133.3" y2="440.1928571428572" stroke="#555" stroke-width="0.6"/>
<line x1="170.84285714285716" y1="460.8" x2="170.84285714285716" y2="462.0" stroke="#555" stroke-width="0.6"/>
<line x1="132.10000000000002" y1="444.31428571428575" x2="133.3" y2="444.31428571428575" stroke="#555" stroke-width="0.6"/>
<line x1="175.0142857142857" y1="460.8" x2="175.0142857142857" y2="462.0" stroke="#555" stroke-width="0.6"/>
<line x1="132.10000000000002" y1="448.4357142857143" x2="133.3" y2="448.4357142857143" stroke="#555" stroke-width="0.6"/>
<line x1="179.18571428571428" y1="460.8" x2="179.18571428571428" y2="462.0" stroke="#555" stroke-width="0.6"/>
<line x1="132.10000000000002" y1="452.5571428571429" x2="133.3" y2="452.5571428571429" stroke="#555" stroke-width="0.6"/>
<line x1="183.35714285714283" y1="460.8" x2="183.35714285714283" y2="462.0" stroke="#555" stroke-width="0.6"/>
<line x1="132.10000000000002" y1="456.67857142857144" x2="133.3" y2="456.67857142857144" stroke="#555" stroke-width="0.6"/>
<line x1="187.5285714285714" y1="460.8" x2="187.5285714285714" y2="462.0" stroke="#555" stroke-width="0.6"/>
<rect x="46.9" y="353.3" width="48.9" height="13.8" fill="none" stroke="#28287a" stroke-width="1.1"/>
<rect x="46.9" y="418.7" width="48.9" height="13.8" fill="none" stroke="#28287a" stroke-width="1.1"/>
<polygon points="139.2,366.5 146.0,361.5 153.8,364.5 154.6,375.5 150.0,379.5 141.5,379.5 139.0,373.0" fill="none" stroke="#28287a" stroke-width="1.1" stroke-linejoin="round"/>
<polygon points="150.0,379.5 154.6,375.5 158.7,379.5 158.7,394.6 147.4,394.6 147.4,381.2" fill="none" stroke="#28287a" stroke-width="1.1" stroke-linejoin="round"/>
<polygon points="138.3,431.4 145.4,426.7 153.8,430.1 154.0,438.7 150.0,444.8 142.0,444.8 138.3,438.1" fill="none" stroke="#28287a" stroke-width="1.1" stroke-linejoin="round"/>
<polygon points="150.0,444.8 154.0,440.5 158.7,445.4 158.7,460.8 146.3,460.8 146.3,445.4" fill="none" stroke="#28287a" stroke-width="1.1" stroke-linejoin="round"/>
<line x1="84.7" y1="359.7" x2="117.2" y2="359.7" stroke="#111" stroke-width="1.5"/>
<polygon points="122.7,359.7 115.7,356.8 117.3,359.7 115.7,362.59999999999997" fill="#111"/>
<line x1="84.0" y1="425.4" x2="117.5" y2="425.4" stroke="#111" stroke-width="1.5"/>
<polygon points="123.0,425.4 116.0,422.5 117.6,425.4 116.0,428.29999999999995" fill="#111"/>
<line x1="35.8" y1="445.8" x2="35.8" y2="346.0" stroke="#222" stroke-width="1.5"/>
<polygon points="35.8,340.7 33.3,346.5 38.3,346.5" fill="#111"/>
<line x1="125.2" y1="444.2" x2="125.2" y2="347.1" stroke="#222" stroke-width="1.5"/>
<polygon points="125.2,341.8 122.7,347.6 127.7,347.6" fill="#111"/>
<line x1="61.5" y1="474.0" x2="95.0" y2="474.0" stroke="#111" stroke-width="1.5"/>
<polygon points="100.5,474.0 93.5,471.1 95.1,474.0 93.5,476.9" fill="#111"/>
<line x1="154.6" y1="474.0" x2="183.2" y2="474.0" stroke="#111" stroke-width="1.5"/>
<polygon points="188.7,474.0 181.7,471.1 183.29999999999998,474.0 181.7,476.9" fill="#111"/>
<text x="45.1" y="476.4" font-size="9.04" text-anchor="start" font-weight="normal" fill="#1e1e1e" textLength="12.8" lengthAdjust="spacingAndGlyphs">IgM</text>
<text x="130.6" y="476.8" font-size="9.04" text-anchor="start" font-weight="normal" fill="#1e1e1e" textLength="19.4" lengthAdjust="spacingAndGlyphs">CD21</text>
<text transform="translate(38.08,466.80) rotate(-90)" x="0" y="0" font-size="8" fill="#1e1e1e" textLength="18.3" lengthAdjust="spacingAndGlyphs">B220</text>
<text transform="translate(127.48,468.40) rotate(-90)" x="0" y="0" font-size="8" fill="#1e1e1e" textLength="20.7" lengthAdjust="spacingAndGlyphs">CD23</text>
<text x="8.0" y="369.9" font-size="9.04" text-anchor="start" font-weight="normal" fill="#1e1e1e" textLength="11.3" lengthAdjust="spacingAndGlyphs">WT</text>
<text x="8.2" y="425.8" font-size="9.04" text-anchor="start" font-weight="normal" fill="#1e1e1e" textLength="15.11" lengthAdjust="spacingAndGlyphs">IgH-</text>
<text x="7.9" y="435.9" font-size="9.04" text-anchor="start" font-weight="normal" fill="#1e1e1e" textLength="21.9" lengthAdjust="spacingAndGlyphs">hEBI2</text>
<text x="83.3" y="350.0" font-size="9.04" text-anchor="start" font-weight="normal" fill="#1e1e1e" textLength="8.7" lengthAdjust="spacingAndGlyphs">55</text>
<text x="81.3" y="416.0" font-size="9.04" text-anchor="start" font-weight="normal" fill="#1e1e1e" textLength="8.7" lengthAdjust="spacingAndGlyphs">24</text>
<text x="151.9" y="360.1" font-size="9.04" text-anchor="start" font-weight="normal" fill="#1e1e1e" textLength="9.0" lengthAdjust="spacingAndGlyphs">73</text>
<text x="162.0" y="386.4" font-size="9.04" text-anchor="start" font-weight="normal" fill="#1e1e1e" textLength="11.3" lengthAdjust="spacingAndGlyphs">6.5</text>
<text x="153.3" y="426.7" font-size="9.04" text-anchor="start" font-weight="normal" fill="#1e1e1e" textLength="8.0" lengthAdjust="spacingAndGlyphs">17</text>
<text x="160.9" y="454.1" font-size="9.04" text-anchor="start" font-weight="normal" fill="#1e1e1e" textLength="9.1" lengthAdjust="spacingAndGlyphs">27</text>
<line x1="440.8" y1="358.6" x2="440.8" y2="443.3" stroke="#111" stroke-width="1.3"/>
<line x1="437.8" y1="361.1" x2="440.8" y2="361.1" stroke="#111" stroke-width="1.0"/>
<text x="435.2" y="363.8" font-size="8.7" text-anchor="end" font-weight="normal" fill="#1e1e1e" textLength="10.7" lengthAdjust="spacingAndGlyphs">1.5</text>
<line x1="437.8" y1="388.4" x2="440.8" y2="388.4" stroke="#111" stroke-width="1.0"/>
<text x="435.2" y="391.09999999999997" font-size="8.7" text-anchor="end" font-weight="normal" fill="#1e1e1e" textLength="10.7" lengthAdjust="spacingAndGlyphs">1.0</text>
<line x1="437.8" y1="415.7" x2="440.8" y2="415.7" stroke="#111" stroke-width="1.0"/>
<text x="435.2" y="418.4" font-size="8.7" text-anchor="end" font-weight="normal" fill="#1e1e1e" textLength="10.7" lengthAdjust="spacingAndGlyphs">0.5</text>
<line x1="437.8" y1="442.8" x2="440.8" y2="442.8" stroke="#111" stroke-width="1.0"/>
<text x="435.2" y="445.5" font-size="8.7" text-anchor="end" font-weight="normal" fill="#1e1e1e" textLength="10.7" lengthAdjust="spacingAndGlyphs">0.0</text>
<line x1="440.2" y1="442.8" x2="508.8" y2="442.8" stroke="#111" stroke-width="1.3"/>
<line x1="440.8" y1="442.8" x2="440.8" y2="445.6" stroke="#111" stroke-width="1.0"/>
<line x1="462.4" y1="442.8" x2="462.4" y2="445.6" stroke="#111" stroke-width="1.0"/>
<line x1="484.5" y1="442.8" x2="484.5" y2="445.6" stroke="#111" stroke-width="1.0"/>
<line x1="506.5" y1="442.8" x2="506.5" y2="445.6" stroke="#111" stroke-width="1.0"/>
<line x1="469.05276290417396" y1="442.8" x2="469.05276290417396" y2="444.4" stroke="#111" stroke-width="0.6"/>
<line x1="472.9443797293045" y1="442.8" x2="472.9443797293045" y2="444.4" stroke="#111" stroke-width="0.6"/>
<line x1="475.70552580834794" y1="442.8" x2="475.70552580834794" y2="444.4" stroke="#111" stroke-width="0.6"/>
<line x1="477.847237095826" y1="442.8" x2="477.847237095826" y2="444.4" stroke="#111" stroke-width="0.6"/>
<line x1="479.5971426334785" y1="442.8" x2="479.5971426334785" y2="444.4" stroke="#111" stroke-width="0.6"/>
<line x1="481.07666668431506" y1="442.8" x2="481.07666668431506" y2="444.4" stroke="#111" stroke-width="0.6"/>
<line x1="482.3582887125219" y1="442.8" x2="482.3582887125219" y2="444.4" stroke="#111" stroke-width="0.6"/>
<line x1="483.4887594586091" y1="442.8" x2="483.4887594586091" y2="444.4" stroke="#111" stroke-width="0.6"/>
<line x1="491.152762904174" y1="442.8" x2="491.152762904174" y2="444.4" stroke="#111" stroke-width="0.6"/>
<line x1="495.0443797293045" y1="442.8" x2="495.0443797293045" y2="444.4" stroke="#111" stroke-width="0.6"/>
<line x1="497.80552580834797" y1="442.8" x2="497.80552580834797" y2="444.4" stroke="#111" stroke-width="0.6"/>
<line x1="499.94723709582604" y1="442.8" x2="499.94723709582604" y2="444.4" stroke="#111" stroke-width="0.6"/>
<line x1="501.6971426334785" y1="442.8" x2="501.6971426334785" y2="444.4" stroke="#111" stroke-width="0.6"/>
<line x1="503.1766666843151" y1="442.8" x2="503.1766666843151" y2="444.4" stroke="#111" stroke-width="0.6"/>
<line x1="504.45828871252195" y1="442.8" x2="504.45828871252195" y2="444.4" stroke="#111" stroke-width="0.6"/>
<line x1="505.5887594586091" y1="442.8" x2="505.5887594586091" y2="444.4" stroke="#111" stroke-width="0.6"/>
<line x1="447.302247906342" y1="442.8" x2="447.302247906342" y2="444.4" stroke="#111" stroke-width="0.6"/>
<line x1="451.10581910194475" y1="442.8" x2="451.10581910194475" y2="444.4" stroke="#111" stroke-width="0.6"/>
<line x1="453.804495812684" y1="442.8" x2="453.804495812684" y2="444.4" stroke="#111" stroke-width="0.6"/>
<line x1="455.897752093658" y1="442.8" x2="455.897752093658" y2="444.4" stroke="#111" stroke-width="0.6"/>
<line x1="457.6080670082867" y1="442.8" x2="457.6080670082867" y2="444.4" stroke="#111" stroke-width="0.6"/>
<line x1="459.05411766430797" y1="442.8" x2="459.05411766430797" y2="444.4" stroke="#111" stroke-width="0.6"/>
<line x1="460.306743719026" y1="442.8" x2="460.306743719026" y2="444.4" stroke="#111" stroke-width="0.6"/>
<line x1="461.4116382038894" y1="442.8" x2="461.4116382038894" y2="444.4" stroke="#111" stroke-width="0.6"/>
<text x="440.8" y="455.8" font-size="8.36" text-anchor="middle" font-weight="normal" fill="#1e1e1e" textLength="4.12" lengthAdjust="spacingAndGlyphs">0</text>
<text x="462.4" y="455.8" font-size="8.36" text-anchor="middle" font-weight="normal" fill="#1e1e1e" textLength="4.12" lengthAdjust="spacingAndGlyphs">1</text>
<text x="484.5" y="455.8" font-size="8.36" text-anchor="middle" font-weight="normal" fill="#1e1e1e" textLength="8.23" lengthAdjust="spacingAndGlyphs">10</text>
<text x="506.5" y="455.8" font-size="8.36" text-anchor="middle" font-weight="normal" fill="#1e1e1e" textLength="12.35" lengthAdjust="spacingAndGlyphs">100</text>
<circle cx="458.4" cy="442.2" r="2.75" fill="#3c4862" stroke="#14040a" stroke-width="1.15"/>
<circle cx="471.6" cy="442.4" r="2.75" fill="#3c4862" stroke="#14040a" stroke-width="1.15"/>
<circle cx="465.0" cy="438.5" r="2.75" fill="#3c4862" stroke="#14040a" stroke-width="1.15"/>
<circle cx="467.0" cy="440.1" r="2.75" fill="#3c4862" stroke="#14040a" stroke-width="1.15"/>
<circle cx="477.8" cy="419.2" r="2.75" fill="#3c4862" stroke="#14040a" stroke-width="1.15"/>
<circle cx="487.8" cy="419.6" r="2.75" fill="#3c4862" stroke="#14040a" stroke-width="1.15"/>
<circle cx="500.4" cy="373.0" r="2.75" fill="#3c4862" stroke="#14040a" stroke-width="1.15"/>
<text transform="translate(417.02,440.00) rotate(-90)" x="0" y="0" font-size="8.4" fill="#1e1e1e" textLength="79.2" lengthAdjust="spacingAndGlyphs">Rel. hEBI2 RNA level</text>
<text x="443.0" y="473.3" font-size="8.93" text-anchor="start" font-weight="normal" fill="#1e1e1e" textLength="40.0" lengthAdjust="spacingAndGlyphs">% of B220</text>
<text x="483.6" y="469.3" font-size="6.67" text-anchor="start" font-weight="normal" fill="#1e1e1e" textLength="23.5" lengthAdjust="spacingAndGlyphs">low/neg</text>
<text x="452.7" y="483.7" font-size="8.93" text-anchor="start" font-weight="normal" fill="#1e1e1e" textLength="45.2" lengthAdjust="spacingAndGlyphs">spleen cells</text>
<rect x="0" y="0" width="520" height="1.2" fill="#000"/>
<rect x="0" y="0" width="1.4" height="494" fill="#000"/>
<rect x="518.6" y="0" width="1.4" height="494" fill="#000"/>
<rect x="0" y="492.6" width="520" height="1.4" fill="#000"/>
</svg>
</body></html>
